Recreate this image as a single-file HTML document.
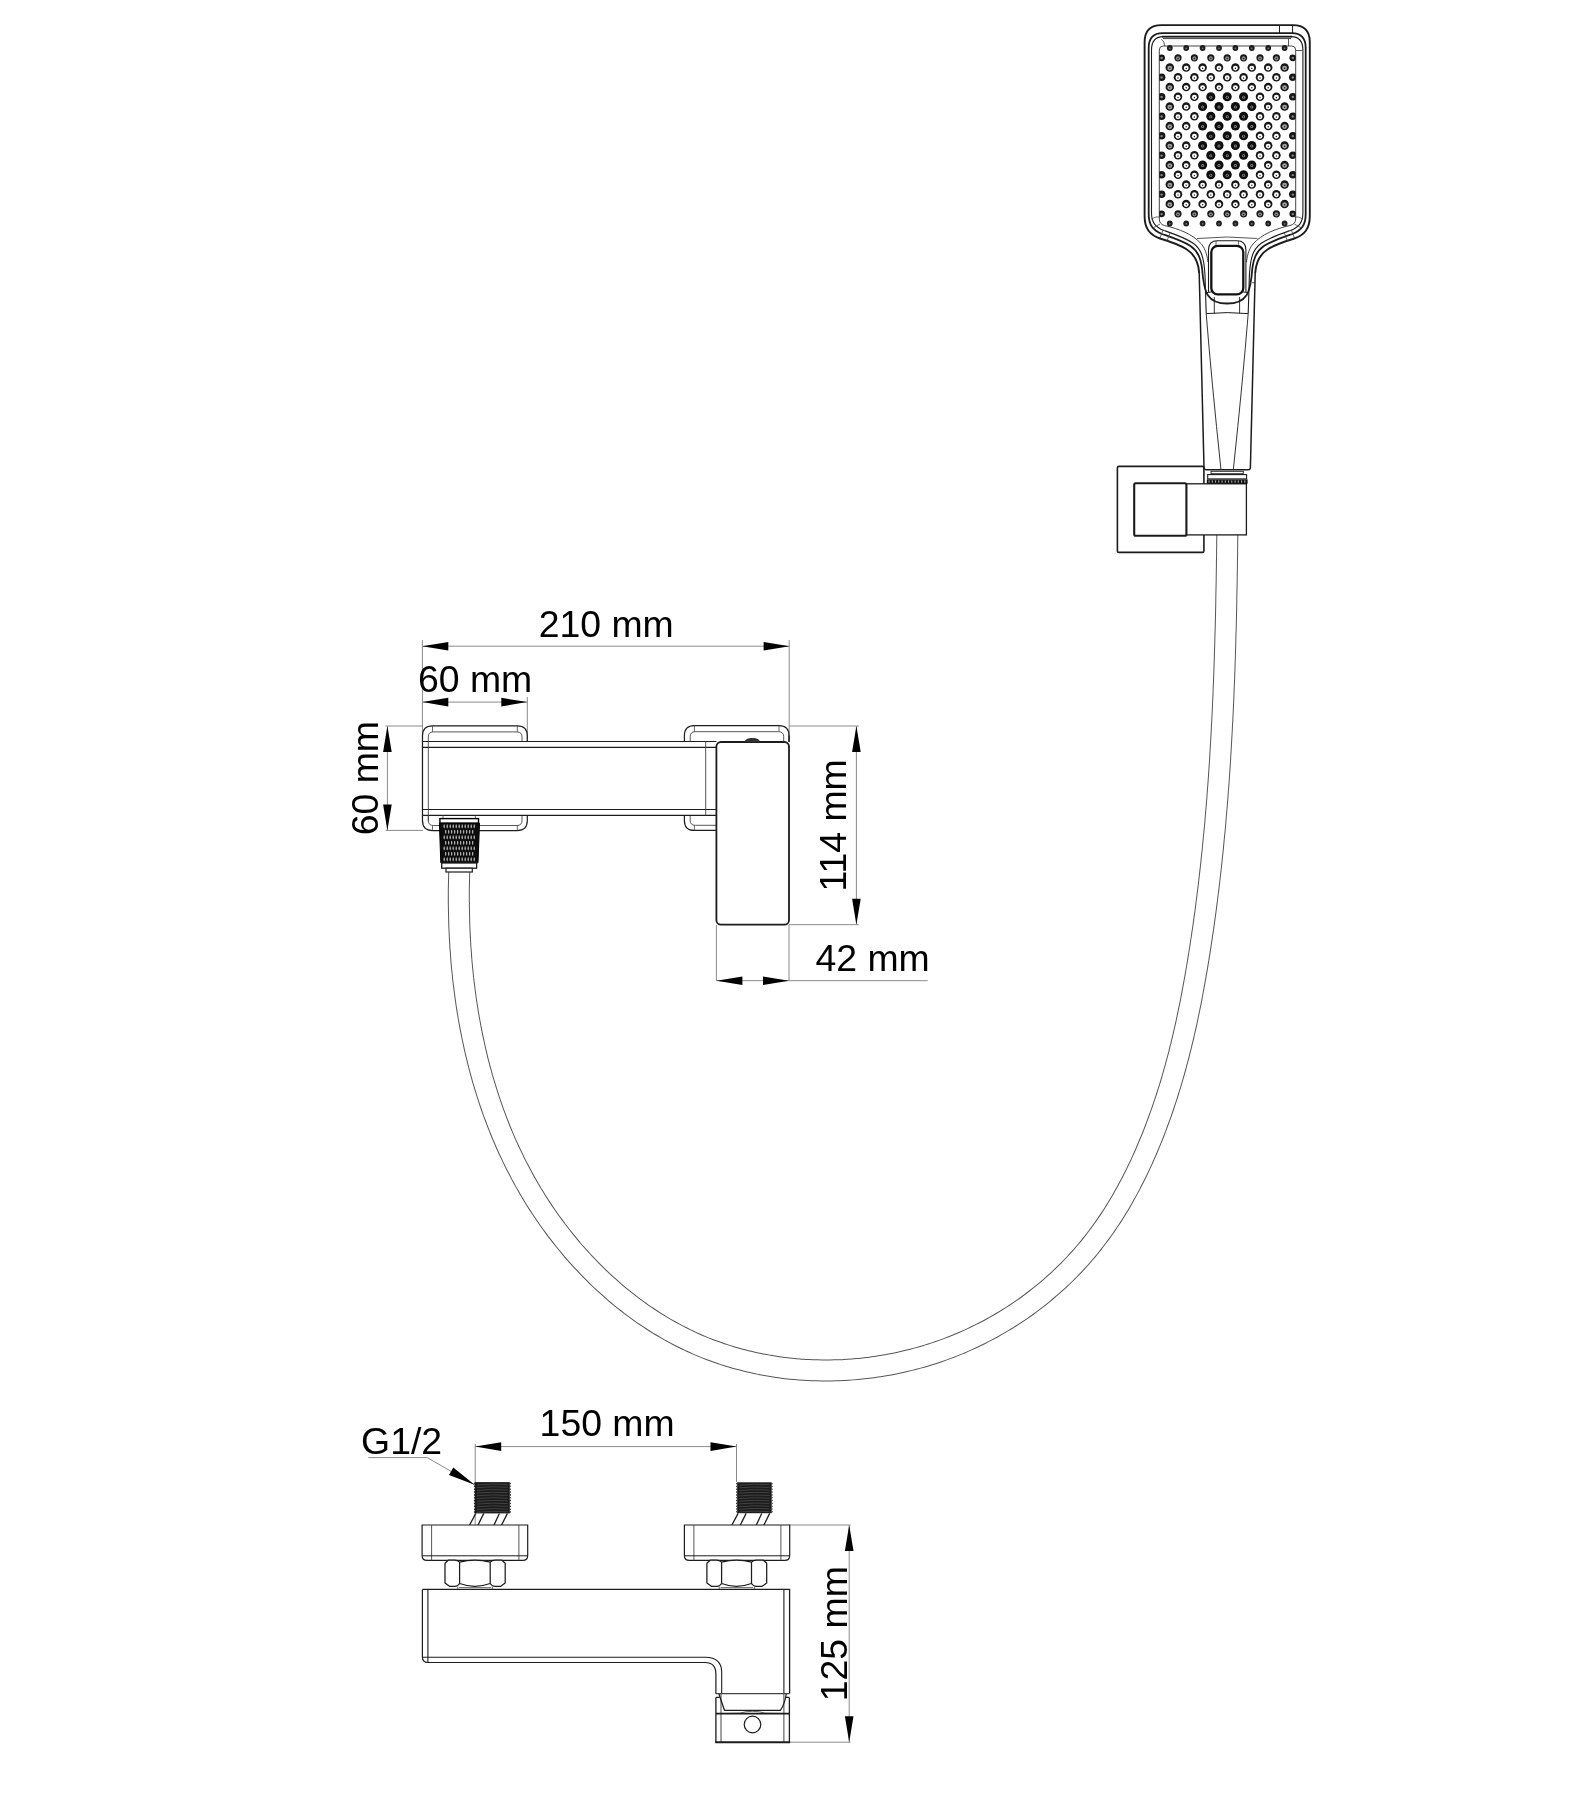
<!DOCTYPE html>
<html><head><meta charset="utf-8"><title>Shower mixer drawing</title>
<style>html,body{margin:0;padding:0;background:#fff;} svg{display:block;will-change:transform;}</style></head>
<body><svg width="1581" height="1800" viewBox="0 0 1581 1800">
<rect width="1581" height="1800" fill="#fff"/>
<path d="M459.7,860.1 L459.5,864.4 L459.3,868.8 L459.2,873.1 L459.1,877.4 L459.0,881.8 L458.9,886.1 L458.8,890.5 L458.8,894.9 L458.8,899.2 L458.8,903.6 L458.9,908.0 L459.0,912.3 L459.1,916.7 L459.2,921.1 L459.3,925.5 L459.5,929.8 L459.7,934.2 L459.9,938.6 L460.2,943.0 L460.4,947.4 L460.8,951.7 L461.1,956.1 L461.4,960.5 L461.8,964.9 L462.2,969.2 L462.7,973.6 L463.1,978.0 L463.6,982.3 L464.2,986.7 L464.7,991.0 L465.3,995.4 L465.9,999.7 L466.5,1004.1 L467.2,1008.4 L467.9,1012.8 L468.6,1017.1 L469.4,1021.4 L470.2,1025.7 L471.0,1030.0 L471.9,1034.3 L472.7,1038.6 L473.7,1042.9 L474.6,1047.2 L475.6,1051.5 L476.6,1055.7 L477.6,1060.0 L478.7,1064.2 L479.8,1068.5 L481.0,1072.7 L482.1,1076.9 L483.3,1081.1 L484.6,1085.3 L485.9,1089.5 L487.2,1093.7 L488.5,1097.8 L489.9,1102.0 L491.3,1106.1 L492.7,1110.2 L494.2,1114.3 L495.8,1118.4 L497.3,1122.5 L498.9,1126.6 L500.5,1130.6 L502.2,1134.7 L503.9,1138.7 L505.6,1142.7 L507.4,1146.7 L509.2,1150.6 L511.1,1154.6 L513.0,1158.5 L514.9,1162.5 L516.9,1166.4 L518.9,1170.2 L520.9,1174.1 L523.0,1178.0 L525.1,1181.8 L527.3,1185.6 L529.5,1189.4 L531.7,1193.2 L534.0,1196.9 L536.3,1200.7 L538.7,1204.4 L541.1,1208.1 L543.5,1211.7 L546.0,1215.4 L548.5,1219.0 L551.1,1222.6 L553.7,1226.1 L556.3,1229.7 L559.0,1233.2 L561.7,1236.7 L564.5,1240.2 L567.3,1243.6 L570.1,1247.0 L572.9,1250.4 L575.8,1253.7 L578.8,1257.0 L581.8,1260.3 L584.8,1263.5 L587.8,1266.7 L590.9,1269.9 L594.0,1273.0 L597.1,1276.1 L600.3,1279.2 L603.5,1282.2 L606.8,1285.2 L610.1,1288.1 L613.4,1291.0 L616.7,1293.9 L620.1,1296.7 L623.5,1299.5 L627.0,1302.2 L630.4,1304.9 L633.9,1307.5 L637.5,1310.1 L641.0,1312.7 L644.6,1315.2 L648.3,1317.6 L651.9,1320.0 L655.6,1322.4 L659.3,1324.7 L663.1,1326.9 L666.8,1329.1 L670.6,1331.3 L674.5,1333.4 L678.3,1335.4 L682.2,1337.4 L686.1,1339.3 L690.0,1341.2 L694.0,1343.0 L698.0,1344.8 L702.0,1346.5 L706.0,1348.1 L710.1,1349.7 L714.2,1351.2 L718.3,1352.7 L722.4,1354.1 L726.6,1355.4 L730.8,1356.7 L735.0,1358.0 L739.2,1359.1 L743.4,1360.2 L747.6,1361.3 L751.9,1362.3 L756.2,1363.2 L760.5,1364.1 L764.8,1364.9 L769.1,1365.7 L773.4,1366.4 L777.8,1367.1 L782.1,1367.7 L786.5,1368.2 L790.9,1368.7 L795.2,1369.1 L799.6,1369.5 L804.0,1369.8 L808.4,1370.0 L812.8,1370.2 L817.2,1370.3 L821.6,1370.4 L826.1,1370.5 L830.5,1370.4 L834.9,1370.3 L839.3,1370.2 L843.7,1370.0 L848.1,1369.7 L852.5,1369.4 L857.0,1369.0 L861.4,1368.6 L865.8,1368.1 L870.2,1367.6 L874.6,1367.0 L878.9,1366.3 L883.3,1365.6 L887.7,1364.9 L892.0,1364.1 L896.4,1363.2 L900.7,1362.3 L905.0,1361.3 L909.3,1360.2 L913.6,1359.2 L917.9,1358.0 L922.2,1356.8 L926.4,1355.6 L930.7,1354.2 L934.9,1352.9 L939.1,1351.5 L943.3,1350.0 L947.4,1348.5 L951.6,1346.9 L955.7,1345.2 L959.8,1343.6 L963.8,1341.8 L967.9,1340.0 L971.9,1338.2 L975.9,1336.3 L979.9,1334.3 L983.8,1332.3 L987.7,1330.3 L991.6,1328.2 L995.5,1326.0 L999.3,1323.8 L1003.1,1321.6 L1006.9,1319.3 L1010.6,1316.9 L1014.4,1314.5 L1018.0,1312.1 L1021.7,1309.6 L1025.3,1307.1 L1028.9,1304.5 L1032.4,1301.8 L1035.9,1299.2 L1039.4,1296.5 L1042.8,1293.7 L1046.2,1290.9 L1049.6,1288.0 L1052.9,1285.2 L1056.2,1282.2 L1059.4,1279.3 L1062.6,1276.2 L1065.7,1273.2 L1068.9,1270.1 L1071.9,1266.9 L1074.9,1263.8 L1077.9,1260.5 L1080.9,1257.3 L1083.7,1254.0 L1086.6,1250.7 L1089.4,1247.3 L1092.1,1243.9 L1094.8,1240.4 L1097.5,1236.9 L1100.1,1233.4 L1102.6,1229.9 L1105.2,1226.3 L1107.6,1222.7 L1110.1,1219.1 L1112.5,1215.4 L1114.8,1211.7 L1117.1,1208.0 L1119.4,1204.2 L1121.6,1200.4 L1123.8,1196.6 L1125.9,1192.8 L1128.0,1188.9 L1130.1,1185.1 L1132.1,1181.2 L1134.1,1177.3 L1136.1,1173.3 L1138.0,1169.4 L1139.9,1165.4 L1141.7,1161.5 L1143.5,1157.5 L1145.3,1153.4 L1147.0,1149.4 L1148.7,1145.4 L1150.4,1141.3 L1152.1,1137.3 L1153.7,1133.2 L1155.3,1129.1 L1156.8,1125.0 L1158.3,1120.9 L1159.8,1116.8 L1161.3,1112.7 L1162.7,1108.6 L1164.1,1104.4 L1165.5,1100.3 L1166.9,1096.1 L1168.2,1091.9 L1169.5,1087.8 L1170.8,1083.6 L1172.0,1079.4 L1173.2,1075.2 L1174.4,1071.0 L1175.6,1066.8 L1176.7,1062.5 L1177.9,1058.3 L1179.0,1054.1 L1180.0,1049.8 L1181.1,1045.6 L1182.1,1041.3 L1183.2,1037.0 L1184.1,1032.8 L1185.1,1028.5 L1186.1,1024.2 L1187.0,1019.9 L1187.9,1015.6 L1188.8,1011.3 L1189.7,1007.0 L1190.6,1002.7 L1191.4,998.4 L1192.2,994.1 L1193.0,989.8 L1193.8,985.5 L1194.6,981.2 L1195.4,976.8 L1196.1,972.5 L1196.9,968.2 L1197.6,963.9 L1198.3,959.5 L1199.0,955.2 L1199.7,950.9 L1200.4,946.5 L1201.0,942.2 L1201.7,937.9 L1202.3,933.5 L1203.0,929.2 L1203.6,924.9 L1204.2,920.5 L1204.8,916.2 L1205.4,911.9 L1206.0,907.5 L1206.5,903.2 L1207.1,898.8 L1207.6,894.5 L1208.2,890.2 L1208.7,885.8 L1209.2,881.5 L1209.7,877.1 L1210.2,872.8 L1210.7,868.5 L1211.2,864.1 L1211.6,859.8 L1212.1,855.4 L1212.6,851.1 L1213.0,846.7 L1213.4,842.4 L1213.8,838.0 L1214.3,833.7 L1214.7,829.3 L1215.1,825.0 L1215.5,820.6 L1215.8,816.3 L1216.2,811.9 L1216.6,807.6 L1216.9,803.2 L1217.3,798.9 L1217.6,794.5 L1217.9,790.2 L1218.3,785.8 L1218.6,781.5 L1218.9,777.1 L1219.2,772.7 L1219.5,768.4 L1219.8,764.0 L1220.1,759.7 L1220.3,755.3 L1220.6,750.9 L1220.8,746.6 L1221.1,742.2 L1221.3,737.9 L1221.6,733.5 L1221.8,729.1 L1222.0,724.8 L1222.3,720.4 L1222.5,716.0 L1222.7,711.7 L1222.9,707.3 L1223.1,703.0 L1223.3,698.6 L1223.5,694.2 L1223.6,689.9 L1223.8,685.5 L1224.0,681.1 L1224.2,676.8 L1224.3,672.4 L1224.5,668.0 L1224.6,663.6 L1224.8,659.3 L1224.9,654.9 L1225.0,650.5 L1225.2,646.2 L1225.3,641.8 L1225.4,637.4 L1225.5,633.0 L1225.7,628.7 L1225.8,624.3 L1225.9,619.9 L1226.0,615.5 L1226.1,611.2 L1226.2,606.8 L1226.3,602.4 L1226.3,598.0 L1226.4,593.7 L1226.5,589.3 L1226.6,584.9 L1226.7,580.5 L1226.7,576.2 L1226.8,571.8 L1226.9,567.4 L1226.9,563.0 L1227.0,558.6 L1227.1,554.3 L1227.1,549.9 L1227.2,545.5 L1227.2,541.1 L1227.3,536.7 L1227.3,532.3 L1227.4,528.0" fill="none" stroke="#555" stroke-width="22" stroke-linejoin="round"/><path d="M459.7,860.1 L459.5,864.4 L459.3,868.8 L459.2,873.1 L459.1,877.4 L459.0,881.8 L458.9,886.1 L458.8,890.5 L458.8,894.9 L458.8,899.2 L458.8,903.6 L458.9,908.0 L459.0,912.3 L459.1,916.7 L459.2,921.1 L459.3,925.5 L459.5,929.8 L459.7,934.2 L459.9,938.6 L460.2,943.0 L460.4,947.4 L460.8,951.7 L461.1,956.1 L461.4,960.5 L461.8,964.9 L462.2,969.2 L462.7,973.6 L463.1,978.0 L463.6,982.3 L464.2,986.7 L464.7,991.0 L465.3,995.4 L465.9,999.7 L466.5,1004.1 L467.2,1008.4 L467.9,1012.8 L468.6,1017.1 L469.4,1021.4 L470.2,1025.7 L471.0,1030.0 L471.9,1034.3 L472.7,1038.6 L473.7,1042.9 L474.6,1047.2 L475.6,1051.5 L476.6,1055.7 L477.6,1060.0 L478.7,1064.2 L479.8,1068.5 L481.0,1072.7 L482.1,1076.9 L483.3,1081.1 L484.6,1085.3 L485.9,1089.5 L487.2,1093.7 L488.5,1097.8 L489.9,1102.0 L491.3,1106.1 L492.7,1110.2 L494.2,1114.3 L495.8,1118.4 L497.3,1122.5 L498.9,1126.6 L500.5,1130.6 L502.2,1134.7 L503.9,1138.7 L505.6,1142.7 L507.4,1146.7 L509.2,1150.6 L511.1,1154.6 L513.0,1158.5 L514.9,1162.5 L516.9,1166.4 L518.9,1170.2 L520.9,1174.1 L523.0,1178.0 L525.1,1181.8 L527.3,1185.6 L529.5,1189.4 L531.7,1193.2 L534.0,1196.9 L536.3,1200.7 L538.7,1204.4 L541.1,1208.1 L543.5,1211.7 L546.0,1215.4 L548.5,1219.0 L551.1,1222.6 L553.7,1226.1 L556.3,1229.7 L559.0,1233.2 L561.7,1236.7 L564.5,1240.2 L567.3,1243.6 L570.1,1247.0 L572.9,1250.4 L575.8,1253.7 L578.8,1257.0 L581.8,1260.3 L584.8,1263.5 L587.8,1266.7 L590.9,1269.9 L594.0,1273.0 L597.1,1276.1 L600.3,1279.2 L603.5,1282.2 L606.8,1285.2 L610.1,1288.1 L613.4,1291.0 L616.7,1293.9 L620.1,1296.7 L623.5,1299.5 L627.0,1302.2 L630.4,1304.9 L633.9,1307.5 L637.5,1310.1 L641.0,1312.7 L644.6,1315.2 L648.3,1317.6 L651.9,1320.0 L655.6,1322.4 L659.3,1324.7 L663.1,1326.9 L666.8,1329.1 L670.6,1331.3 L674.5,1333.4 L678.3,1335.4 L682.2,1337.4 L686.1,1339.3 L690.0,1341.2 L694.0,1343.0 L698.0,1344.8 L702.0,1346.5 L706.0,1348.1 L710.1,1349.7 L714.2,1351.2 L718.3,1352.7 L722.4,1354.1 L726.6,1355.4 L730.8,1356.7 L735.0,1358.0 L739.2,1359.1 L743.4,1360.2 L747.6,1361.3 L751.9,1362.3 L756.2,1363.2 L760.5,1364.1 L764.8,1364.9 L769.1,1365.7 L773.4,1366.4 L777.8,1367.1 L782.1,1367.7 L786.5,1368.2 L790.9,1368.7 L795.2,1369.1 L799.6,1369.5 L804.0,1369.8 L808.4,1370.0 L812.8,1370.2 L817.2,1370.3 L821.6,1370.4 L826.1,1370.5 L830.5,1370.4 L834.9,1370.3 L839.3,1370.2 L843.7,1370.0 L848.1,1369.7 L852.5,1369.4 L857.0,1369.0 L861.4,1368.6 L865.8,1368.1 L870.2,1367.6 L874.6,1367.0 L878.9,1366.3 L883.3,1365.6 L887.7,1364.9 L892.0,1364.1 L896.4,1363.2 L900.7,1362.3 L905.0,1361.3 L909.3,1360.2 L913.6,1359.2 L917.9,1358.0 L922.2,1356.8 L926.4,1355.6 L930.7,1354.2 L934.9,1352.9 L939.1,1351.5 L943.3,1350.0 L947.4,1348.5 L951.6,1346.9 L955.7,1345.2 L959.8,1343.6 L963.8,1341.8 L967.9,1340.0 L971.9,1338.2 L975.9,1336.3 L979.9,1334.3 L983.8,1332.3 L987.7,1330.3 L991.6,1328.2 L995.5,1326.0 L999.3,1323.8 L1003.1,1321.6 L1006.9,1319.3 L1010.6,1316.9 L1014.4,1314.5 L1018.0,1312.1 L1021.7,1309.6 L1025.3,1307.1 L1028.9,1304.5 L1032.4,1301.8 L1035.9,1299.2 L1039.4,1296.5 L1042.8,1293.7 L1046.2,1290.9 L1049.6,1288.0 L1052.9,1285.2 L1056.2,1282.2 L1059.4,1279.3 L1062.6,1276.2 L1065.7,1273.2 L1068.9,1270.1 L1071.9,1266.9 L1074.9,1263.8 L1077.9,1260.5 L1080.9,1257.3 L1083.7,1254.0 L1086.6,1250.7 L1089.4,1247.3 L1092.1,1243.9 L1094.8,1240.4 L1097.5,1236.9 L1100.1,1233.4 L1102.6,1229.9 L1105.2,1226.3 L1107.6,1222.7 L1110.1,1219.1 L1112.5,1215.4 L1114.8,1211.7 L1117.1,1208.0 L1119.4,1204.2 L1121.6,1200.4 L1123.8,1196.6 L1125.9,1192.8 L1128.0,1188.9 L1130.1,1185.1 L1132.1,1181.2 L1134.1,1177.3 L1136.1,1173.3 L1138.0,1169.4 L1139.9,1165.4 L1141.7,1161.5 L1143.5,1157.5 L1145.3,1153.4 L1147.0,1149.4 L1148.7,1145.4 L1150.4,1141.3 L1152.1,1137.3 L1153.7,1133.2 L1155.3,1129.1 L1156.8,1125.0 L1158.3,1120.9 L1159.8,1116.8 L1161.3,1112.7 L1162.7,1108.6 L1164.1,1104.4 L1165.5,1100.3 L1166.9,1096.1 L1168.2,1091.9 L1169.5,1087.8 L1170.8,1083.6 L1172.0,1079.4 L1173.2,1075.2 L1174.4,1071.0 L1175.6,1066.8 L1176.7,1062.5 L1177.9,1058.3 L1179.0,1054.1 L1180.0,1049.8 L1181.1,1045.6 L1182.1,1041.3 L1183.2,1037.0 L1184.1,1032.8 L1185.1,1028.5 L1186.1,1024.2 L1187.0,1019.9 L1187.9,1015.6 L1188.8,1011.3 L1189.7,1007.0 L1190.6,1002.7 L1191.4,998.4 L1192.2,994.1 L1193.0,989.8 L1193.8,985.5 L1194.6,981.2 L1195.4,976.8 L1196.1,972.5 L1196.9,968.2 L1197.6,963.9 L1198.3,959.5 L1199.0,955.2 L1199.7,950.9 L1200.4,946.5 L1201.0,942.2 L1201.7,937.9 L1202.3,933.5 L1203.0,929.2 L1203.6,924.9 L1204.2,920.5 L1204.8,916.2 L1205.4,911.9 L1206.0,907.5 L1206.5,903.2 L1207.1,898.8 L1207.6,894.5 L1208.2,890.2 L1208.7,885.8 L1209.2,881.5 L1209.7,877.1 L1210.2,872.8 L1210.7,868.5 L1211.2,864.1 L1211.6,859.8 L1212.1,855.4 L1212.6,851.1 L1213.0,846.7 L1213.4,842.4 L1213.8,838.0 L1214.3,833.7 L1214.7,829.3 L1215.1,825.0 L1215.5,820.6 L1215.8,816.3 L1216.2,811.9 L1216.6,807.6 L1216.9,803.2 L1217.3,798.9 L1217.6,794.5 L1217.9,790.2 L1218.3,785.8 L1218.6,781.5 L1218.9,777.1 L1219.2,772.7 L1219.5,768.4 L1219.8,764.0 L1220.1,759.7 L1220.3,755.3 L1220.6,750.9 L1220.8,746.6 L1221.1,742.2 L1221.3,737.9 L1221.6,733.5 L1221.8,729.1 L1222.0,724.8 L1222.3,720.4 L1222.5,716.0 L1222.7,711.7 L1222.9,707.3 L1223.1,703.0 L1223.3,698.6 L1223.5,694.2 L1223.6,689.9 L1223.8,685.5 L1224.0,681.1 L1224.2,676.8 L1224.3,672.4 L1224.5,668.0 L1224.6,663.6 L1224.8,659.3 L1224.9,654.9 L1225.0,650.5 L1225.2,646.2 L1225.3,641.8 L1225.4,637.4 L1225.5,633.0 L1225.7,628.7 L1225.8,624.3 L1225.9,619.9 L1226.0,615.5 L1226.1,611.2 L1226.2,606.8 L1226.3,602.4 L1226.3,598.0 L1226.4,593.7 L1226.5,589.3 L1226.6,584.9 L1226.7,580.5 L1226.7,576.2 L1226.8,571.8 L1226.9,567.4 L1226.9,563.0 L1227.0,558.6 L1227.1,554.3 L1227.1,549.9 L1227.2,545.5 L1227.2,541.1 L1227.3,536.7 L1227.3,532.3 L1227.4,528.0" fill="none" stroke="#fff" stroke-width="20" stroke-linejoin="round"/>
<line x1="422.3" y1="646.2" x2="789.6" y2="646.2" stroke="#8a8a8a" stroke-width="1"/>
<path d="M422.3,646.2 L448.3,641.9 L448.3,650.5 Z" fill="#000"/>
<path d="M789.6,646.2 L763.6,650.5 L763.6,641.9 Z" fill="#000"/>
<line x1="422.4" y1="640" x2="422.4" y2="822" stroke="#8a8a8a" stroke-width="1"/>
<line x1="789.2" y1="640" x2="789.2" y2="742" stroke="#8a8a8a" stroke-width="1"/>
<line x1="422.3" y1="702.1" x2="527.3" y2="702.1" stroke="#8a8a8a" stroke-width="1"/>
<path d="M422.3,702.1 L448.3,697.8 L448.3,706.4 Z" fill="#000"/>
<path d="M527.3,702.1 L501.3,706.4 L501.3,697.8 Z" fill="#000"/>
<line x1="527.3" y1="697" x2="527.3" y2="741.5" stroke="#8a8a8a" stroke-width="1"/>
<line x1="387.4" y1="726" x2="387.4" y2="830.4" stroke="#8a8a8a" stroke-width="1"/>
<path d="M387.4,726.0 L391.7,752.0 L383.1,752.0 Z" fill="#000"/>
<path d="M387.4,830.4 L383.1,804.4 L391.7,804.4 Z" fill="#000"/>
<line x1="385.5" y1="726" x2="423" y2="726" stroke="#8a8a8a" stroke-width="1"/>
<line x1="385.5" y1="830.4" x2="423" y2="830.4" stroke="#8a8a8a" stroke-width="1"/>
<line x1="856.4" y1="726" x2="856.4" y2="924.7" stroke="#8a8a8a" stroke-width="1"/>
<path d="M856.4,726.0 L860.7,752.0 L852.1,752.0 Z" fill="#000"/>
<path d="M856.4,924.7 L852.1,898.7 L860.7,898.7 Z" fill="#000"/>
<line x1="789" y1="726" x2="858.7" y2="726" stroke="#8a8a8a" stroke-width="1"/>
<line x1="789" y1="924.7" x2="858.7" y2="924.7" stroke="#8a8a8a" stroke-width="1"/>
<line x1="716.4" y1="980.7" x2="927.7" y2="980.7" stroke="#8a8a8a" stroke-width="1"/>
<path d="M716.4,980.7 L742.4,976.4 L742.4,985.0 Z" fill="#000"/>
<path d="M789.0,980.7 L763.0,985.0 L763.0,976.4 Z" fill="#000"/>
<line x1="716.4" y1="925" x2="716.4" y2="981" stroke="#8a8a8a" stroke-width="1"/>
<line x1="789" y1="925" x2="789" y2="981" stroke="#8a8a8a" stroke-width="1"/>
<line x1="475.2" y1="1446.6" x2="736.5" y2="1446.6" stroke="#8a8a8a" stroke-width="1"/>
<path d="M475.2,1446.6 L501.2,1442.3 L501.2,1450.9 Z" fill="#000"/>
<path d="M736.5,1446.6 L710.5,1450.9 L710.5,1442.3 Z" fill="#000"/>
<line x1="475.2" y1="1444" x2="475.2" y2="1525" stroke="#8a8a8a" stroke-width="1"/>
<line x1="736.5" y1="1444" x2="736.5" y2="1482" stroke="#8a8a8a" stroke-width="1"/>
<polyline points="368.3,1457.6 427.2,1457.6 474.6,1484.8" fill="none" stroke="#8a8a8a" stroke-width="1"/>
<path d="M474.6,1484.8 L449.0,1475.1 L453.3,1467.6 Z" fill="#000"/>
<line x1="849.2" y1="1525" x2="849.2" y2="1742.2" stroke="#8a8a8a" stroke-width="1"/>
<path d="M849.2,1525.0 L853.5,1551.0 L844.9,1551.0 Z" fill="#000"/>
<path d="M849.2,1742.2 L844.9,1716.2 L853.5,1716.2 Z" fill="#000"/>
<line x1="789.7" y1="1525" x2="850.6" y2="1525" stroke="#8a8a8a" stroke-width="1"/>
<line x1="789.5" y1="1742.2" x2="850.6" y2="1742.2" stroke="#8a8a8a" stroke-width="1"/>
<g font-family="Liberation Sans, sans-serif" fill="#000"><text x="538.70" y="636.60" font-size="37.4">210 mm</text>
<text x="418.00" y="692.00" font-size="37.4">60 mm</text>
<text x="815.50" y="970.75" font-size="37.4">42 mm</text>
<text x="539.60" y="1436.25" font-size="37.4">150 mm</text>
<text x="361.05" y="1453.80" font-size="37.4">G1/2</text>
<text x="0" y="0" font-size="37.4" transform="translate(377.80,835.25) rotate(-90)">60 mm</text>
<text x="0" y="0" font-size="37.4" transform="translate(846.45,891.60) rotate(-90)">114 mm</text>
<text x="0" y="0" font-size="37.4" transform="translate(846.65,1701.25) rotate(-90)">125 mm</text></g>
<path d="M422.5,741.5 L422.5,735.8 Q422.5,725.8 432.5,725.8 L517.3,725.8 Q527.3,725.8 527.3,735.8 L527.3,741.5" fill="none" stroke="#1c1c1c" stroke-width="1.2"/>
<path d="M428.3,741.5 L428.3,736.9 Q428.3,731.9 433.3,731.9 L517.0,731.9 Q522.0,731.9 522.0,736.9 L522.0,741.5" fill="none" stroke="#444" stroke-width="0.9"/>
<line x1="432.5" y1="725.8" x2="432.5" y2="731.9" stroke="#444" stroke-width="0.8"/>
<line x1="517.3" y1="725.8" x2="517.3" y2="731.9" stroke="#444" stroke-width="0.8"/>
<path d="M422.5,815.4 L422.5,820.6 Q422.5,830.6 432.5,830.6 L517.3,830.6 Q527.3,830.6 527.3,820.6 L527.3,815.4" fill="none" stroke="#1c1c1c" stroke-width="1.2"/>
<path d="M428.3,815.4 L428.3,820.5 Q428.3,825.5 433.3,825.5 L517.0,825.5 Q522.0,825.5 522.0,820.5 L522.0,815.4" fill="none" stroke="#444" stroke-width="0.9"/>
<line x1="432.5" y1="830.6" x2="432.5" y2="825.5" stroke="#444" stroke-width="0.8"/>
<line x1="517.3" y1="830.6" x2="517.3" y2="825.5" stroke="#444" stroke-width="0.8"/>
<path d="M684.4,741.7 L684.4,735.6 Q684.4,725.6 694.4,725.6 L779,725.6 Q789,725.6 789,735.6 L789,741.7" fill="none" stroke="#1c1c1c" stroke-width="1.2"/>
<path d="M690.1999999999999,741.7 L690.1999999999999,736.7 Q690.1999999999999,731.7 695.1999999999999,731.7 L778.7,731.7 Q783.7,731.7 783.7,736.7 L783.7,741.7" fill="none" stroke="#444" stroke-width="0.9"/>
<line x1="694.4" y1="725.6" x2="694.4" y2="731.7" stroke="#444" stroke-width="0.8"/>
<line x1="779" y1="725.6" x2="779" y2="731.7" stroke="#444" stroke-width="0.8"/>
<path d="M684.4,815.2 L684.4,820.4 Q684.4,830.4 694.4,830.4 L716.4,830.4" fill="none" stroke="#1c1c1c" stroke-width="1.2"/>
<path d="M690.1999999999999,815.2 L690.1999999999999,820.3 Q690.1999999999999,825.3 695.1999999999999,825.3 L716.4,825.3" fill="none" stroke="#444" stroke-width="0.9"/>
<line x1="694.4" y1="830.4" x2="694.4" y2="825.3" stroke="#444" stroke-width="0.8"/>
<line x1="422.5" y1="741.5" x2="716.4" y2="741.5" stroke="#1c1c1c" stroke-width="1.2"/>
<line x1="422.5" y1="747.4" x2="716.4" y2="747.4" stroke="#1c1c1c" stroke-width="1.2"/>
<line x1="422.5" y1="809.5" x2="716.4" y2="809.5" stroke="#1c1c1c" stroke-width="1.2"/>
<line x1="422.5" y1="815.4" x2="716.4" y2="815.4" stroke="#1c1c1c" stroke-width="1.2"/>
<line x1="422.5" y1="741.5" x2="422.5" y2="815.4" stroke="#1c1c1c" stroke-width="1.2"/>
<line x1="428.3" y1="741.5" x2="428.3" y2="821" stroke="#444" stroke-width="0.9"/>
<line x1="705.7" y1="741.7" x2="705.7" y2="815.2" stroke="#444" stroke-width="0.9"/>
<rect x="716.4" y="742" width="72.6" height="182.7" rx="4.5" fill="#fff" stroke="#1c1c1c" stroke-width="1.8"/>
<line x1="789" y1="742" x2="789" y2="735.6" stroke="#1c1c1c" stroke-width="1.2"/>
<path d="M744.7,742 Q746,738.6 752.3,738.6 Q758.7,738.6 760,742" fill="#333" stroke="#1c1c1c" stroke-width="1"/>
<line x1="443" y1="815.4" x2="443" y2="818" stroke="#444" stroke-width="0.8"/>
<line x1="475.4" y1="815.4" x2="475.4" y2="818" stroke="#444" stroke-width="0.8"/>
<rect x="439.9" y="818.6" width="38.6" height="4.6" fill="#fff" stroke="#000" stroke-width="1.4"/>
<path d="M439.4,823.2 L479.5,823.2 L478,862.8 L440.8,862.8 Z" fill="#0c0c0c" stroke="#000" stroke-width="1"/>
<ellipse cx="444.2" cy="826.3" rx="0.65" ry="2.1" fill="#bdbdbd"/>
<ellipse cx="447.2" cy="826.3" rx="0.65" ry="2.1" fill="#bdbdbd"/>
<ellipse cx="450.2" cy="826.3" rx="0.65" ry="2.1" fill="#bdbdbd"/>
<ellipse cx="453.2" cy="826.3" rx="0.65" ry="2.1" fill="#bdbdbd"/>
<ellipse cx="456.2" cy="826.3" rx="0.65" ry="2.1" fill="#bdbdbd"/>
<ellipse cx="459.2" cy="826.3" rx="0.65" ry="2.1" fill="#bdbdbd"/>
<ellipse cx="462.2" cy="826.3" rx="0.65" ry="2.1" fill="#bdbdbd"/>
<ellipse cx="465.2" cy="826.3" rx="0.65" ry="2.1" fill="#bdbdbd"/>
<ellipse cx="468.2" cy="826.3" rx="0.65" ry="2.1" fill="#bdbdbd"/>
<ellipse cx="471.2" cy="826.3" rx="0.65" ry="2.1" fill="#bdbdbd"/>
<ellipse cx="474.2" cy="826.3" rx="0.65" ry="2.1" fill="#bdbdbd"/>
<ellipse cx="445.7" cy="831.8" rx="0.65" ry="2.1" fill="#bdbdbd"/>
<ellipse cx="448.7" cy="831.8" rx="0.65" ry="2.1" fill="#bdbdbd"/>
<ellipse cx="451.7" cy="831.8" rx="0.65" ry="2.1" fill="#bdbdbd"/>
<ellipse cx="454.7" cy="831.8" rx="0.65" ry="2.1" fill="#bdbdbd"/>
<ellipse cx="457.7" cy="831.8" rx="0.65" ry="2.1" fill="#bdbdbd"/>
<ellipse cx="460.7" cy="831.8" rx="0.65" ry="2.1" fill="#bdbdbd"/>
<ellipse cx="463.7" cy="831.8" rx="0.65" ry="2.1" fill="#bdbdbd"/>
<ellipse cx="466.7" cy="831.8" rx="0.65" ry="2.1" fill="#bdbdbd"/>
<ellipse cx="469.7" cy="831.8" rx="0.65" ry="2.1" fill="#bdbdbd"/>
<ellipse cx="472.7" cy="831.8" rx="0.65" ry="2.1" fill="#bdbdbd"/>
<ellipse cx="444.2" cy="837.3" rx="0.65" ry="2.1" fill="#bdbdbd"/>
<ellipse cx="447.2" cy="837.3" rx="0.65" ry="2.1" fill="#bdbdbd"/>
<ellipse cx="450.2" cy="837.3" rx="0.65" ry="2.1" fill="#bdbdbd"/>
<ellipse cx="453.2" cy="837.3" rx="0.65" ry="2.1" fill="#bdbdbd"/>
<ellipse cx="456.2" cy="837.3" rx="0.65" ry="2.1" fill="#bdbdbd"/>
<ellipse cx="459.2" cy="837.3" rx="0.65" ry="2.1" fill="#bdbdbd"/>
<ellipse cx="462.2" cy="837.3" rx="0.65" ry="2.1" fill="#bdbdbd"/>
<ellipse cx="465.2" cy="837.3" rx="0.65" ry="2.1" fill="#bdbdbd"/>
<ellipse cx="468.2" cy="837.3" rx="0.65" ry="2.1" fill="#bdbdbd"/>
<ellipse cx="471.2" cy="837.3" rx="0.65" ry="2.1" fill="#bdbdbd"/>
<ellipse cx="474.2" cy="837.3" rx="0.65" ry="2.1" fill="#bdbdbd"/>
<ellipse cx="445.7" cy="842.8" rx="0.65" ry="2.1" fill="#bdbdbd"/>
<ellipse cx="448.7" cy="842.8" rx="0.65" ry="2.1" fill="#bdbdbd"/>
<ellipse cx="451.7" cy="842.8" rx="0.65" ry="2.1" fill="#bdbdbd"/>
<ellipse cx="454.7" cy="842.8" rx="0.65" ry="2.1" fill="#bdbdbd"/>
<ellipse cx="457.7" cy="842.8" rx="0.65" ry="2.1" fill="#bdbdbd"/>
<ellipse cx="460.7" cy="842.8" rx="0.65" ry="2.1" fill="#bdbdbd"/>
<ellipse cx="463.7" cy="842.8" rx="0.65" ry="2.1" fill="#bdbdbd"/>
<ellipse cx="466.7" cy="842.8" rx="0.65" ry="2.1" fill="#bdbdbd"/>
<ellipse cx="469.7" cy="842.8" rx="0.65" ry="2.1" fill="#bdbdbd"/>
<ellipse cx="472.7" cy="842.8" rx="0.65" ry="2.1" fill="#bdbdbd"/>
<ellipse cx="444.2" cy="848.3" rx="0.65" ry="2.1" fill="#bdbdbd"/>
<ellipse cx="447.2" cy="848.3" rx="0.65" ry="2.1" fill="#bdbdbd"/>
<ellipse cx="450.2" cy="848.3" rx="0.65" ry="2.1" fill="#bdbdbd"/>
<ellipse cx="453.2" cy="848.3" rx="0.65" ry="2.1" fill="#bdbdbd"/>
<ellipse cx="456.2" cy="848.3" rx="0.65" ry="2.1" fill="#bdbdbd"/>
<ellipse cx="459.2" cy="848.3" rx="0.65" ry="2.1" fill="#bdbdbd"/>
<ellipse cx="462.2" cy="848.3" rx="0.65" ry="2.1" fill="#bdbdbd"/>
<ellipse cx="465.2" cy="848.3" rx="0.65" ry="2.1" fill="#bdbdbd"/>
<ellipse cx="468.2" cy="848.3" rx="0.65" ry="2.1" fill="#bdbdbd"/>
<ellipse cx="471.2" cy="848.3" rx="0.65" ry="2.1" fill="#bdbdbd"/>
<ellipse cx="474.2" cy="848.3" rx="0.65" ry="2.1" fill="#bdbdbd"/>
<ellipse cx="445.7" cy="853.8" rx="0.65" ry="2.1" fill="#bdbdbd"/>
<ellipse cx="448.7" cy="853.8" rx="0.65" ry="2.1" fill="#bdbdbd"/>
<ellipse cx="451.7" cy="853.8" rx="0.65" ry="2.1" fill="#bdbdbd"/>
<ellipse cx="454.7" cy="853.8" rx="0.65" ry="2.1" fill="#bdbdbd"/>
<ellipse cx="457.7" cy="853.8" rx="0.65" ry="2.1" fill="#bdbdbd"/>
<ellipse cx="460.7" cy="853.8" rx="0.65" ry="2.1" fill="#bdbdbd"/>
<ellipse cx="463.7" cy="853.8" rx="0.65" ry="2.1" fill="#bdbdbd"/>
<ellipse cx="466.7" cy="853.8" rx="0.65" ry="2.1" fill="#bdbdbd"/>
<ellipse cx="469.7" cy="853.8" rx="0.65" ry="2.1" fill="#bdbdbd"/>
<ellipse cx="472.7" cy="853.8" rx="0.65" ry="2.1" fill="#bdbdbd"/>
<ellipse cx="444.2" cy="859.3" rx="0.65" ry="2.1" fill="#bdbdbd"/>
<ellipse cx="447.2" cy="859.3" rx="0.65" ry="2.1" fill="#bdbdbd"/>
<ellipse cx="450.2" cy="859.3" rx="0.65" ry="2.1" fill="#bdbdbd"/>
<ellipse cx="453.2" cy="859.3" rx="0.65" ry="2.1" fill="#bdbdbd"/>
<ellipse cx="456.2" cy="859.3" rx="0.65" ry="2.1" fill="#bdbdbd"/>
<ellipse cx="459.2" cy="859.3" rx="0.65" ry="2.1" fill="#bdbdbd"/>
<ellipse cx="462.2" cy="859.3" rx="0.65" ry="2.1" fill="#bdbdbd"/>
<ellipse cx="465.2" cy="859.3" rx="0.65" ry="2.1" fill="#bdbdbd"/>
<ellipse cx="468.2" cy="859.3" rx="0.65" ry="2.1" fill="#bdbdbd"/>
<ellipse cx="471.2" cy="859.3" rx="0.65" ry="2.1" fill="#bdbdbd"/>
<ellipse cx="474.2" cy="859.3" rx="0.65" ry="2.1" fill="#bdbdbd"/>
<rect x="441.7" y="863" width="34.9" height="5.2" fill="#fff" stroke="#1c1c1c" stroke-width="1.3"/>
<rect x="446" y="868.2" width="26.3" height="3.8" fill="#fff" stroke="#1c1c1c" stroke-width="1.2"/>
<line x1="469.5" y1="1525.2" x2="475.8" y2="1513.4" stroke="#1c1c1c" stroke-width="1.3"/>
<line x1="477.9" y1="1525.2" x2="483.8" y2="1513.4" stroke="#1c1c1c" stroke-width="1.3"/>
<line x1="493.9" y1="1525.2" x2="499.4" y2="1513.4" stroke="#1c1c1c" stroke-width="1.3"/>
<line x1="501.5" y1="1525.2" x2="507.4" y2="1513.4" stroke="#1c1c1c" stroke-width="1.3"/>
<line x1="731.8" y1="1525.2" x2="738.0999999999999" y2="1513.4" stroke="#1c1c1c" stroke-width="1.3"/>
<line x1="740.1999999999999" y1="1525.2" x2="746.0999999999999" y2="1513.4" stroke="#1c1c1c" stroke-width="1.3"/>
<line x1="756.1999999999999" y1="1525.2" x2="761.6999999999999" y2="1513.4" stroke="#1c1c1c" stroke-width="1.3"/>
<line x1="763.8" y1="1525.2" x2="769.6999999999999" y2="1513.4" stroke="#1c1c1c" stroke-width="1.3"/>
<rect x="475" y="1482.1" width="34.80000000000001" height="31.300000000000182" fill="#1c1c1c"/>
<path d="M477,1484.9 Q492.4,1483.4 507.8,1484.5" fill="none" stroke="#4a4a4a" stroke-width="0.8"/>
<path d="M477,1487.6 Q492.4,1486.1 507.8,1487.2" fill="none" stroke="#4a4a4a" stroke-width="0.8"/>
<path d="M477,1490.4 Q492.4,1488.9 507.8,1490.0" fill="none" stroke="#4a4a4a" stroke-width="0.8"/>
<path d="M477,1493.1 Q492.4,1491.6 507.8,1492.7" fill="none" stroke="#4a4a4a" stroke-width="0.8"/>
<path d="M477,1495.8 Q492.4,1494.3 507.8,1495.4" fill="none" stroke="#4a4a4a" stroke-width="0.8"/>
<path d="M477,1498.5 Q492.4,1497.0 507.8,1498.2" fill="none" stroke="#4a4a4a" stroke-width="0.8"/>
<path d="M477,1501.3 Q492.4,1499.8 507.8,1500.9" fill="none" stroke="#4a4a4a" stroke-width="0.8"/>
<path d="M477,1504.0 Q492.4,1502.5 507.8,1503.6" fill="none" stroke="#4a4a4a" stroke-width="0.8"/>
<path d="M477,1506.7 Q492.4,1505.2 507.8,1506.3" fill="none" stroke="#4a4a4a" stroke-width="0.8"/>
<path d="M477,1509.5 Q492.4,1508.0 507.8,1509.1" fill="none" stroke="#4a4a4a" stroke-width="0.8"/>
<path d="M477,1512.2 Q492.4,1510.7 507.8,1511.8" fill="none" stroke="#4a4a4a" stroke-width="0.8"/>
<path d="M475,1482.2 L473.7,1483.5 L475,1484.8 Z" fill="#1c1c1c"/>
<path d="M509.8,1482.2 L511.1,1483.5 L509.8,1484.8 Z" fill="#1c1c1c"/>
<path d="M475,1485.0 L473.7,1486.3 L475,1487.6 Z" fill="#1c1c1c"/>
<path d="M509.8,1485.0 L511.1,1486.3 L509.8,1487.6 Z" fill="#1c1c1c"/>
<path d="M475,1487.9 L473.7,1489.2 L475,1490.5 Z" fill="#1c1c1c"/>
<path d="M509.8,1487.9 L511.1,1489.2 L509.8,1490.5 Z" fill="#1c1c1c"/>
<path d="M475,1490.8 L473.7,1492.0 L475,1493.3 Z" fill="#1c1c1c"/>
<path d="M509.8,1490.8 L511.1,1492.0 L509.8,1493.3 Z" fill="#1c1c1c"/>
<path d="M475,1493.6 L473.7,1494.9 L475,1496.2 Z" fill="#1c1c1c"/>
<path d="M509.8,1493.6 L511.1,1494.9 L509.8,1496.2 Z" fill="#1c1c1c"/>
<path d="M475,1496.5 L473.7,1497.8 L475,1499.0 Z" fill="#1c1c1c"/>
<path d="M509.8,1496.5 L511.1,1497.8 L509.8,1499.0 Z" fill="#1c1c1c"/>
<path d="M475,1499.3 L473.7,1500.6 L475,1501.9 Z" fill="#1c1c1c"/>
<path d="M509.8,1499.3 L511.1,1500.6 L509.8,1501.9 Z" fill="#1c1c1c"/>
<path d="M475,1502.2 L473.7,1503.5 L475,1504.8 Z" fill="#1c1c1c"/>
<path d="M509.8,1502.2 L511.1,1503.5 L509.8,1504.8 Z" fill="#1c1c1c"/>
<path d="M475,1505.0 L473.7,1506.3 L475,1507.6 Z" fill="#1c1c1c"/>
<path d="M509.8,1505.0 L511.1,1506.3 L509.8,1507.6 Z" fill="#1c1c1c"/>
<path d="M475,1507.9 L473.7,1509.2 L475,1510.5 Z" fill="#1c1c1c"/>
<path d="M509.8,1507.9 L511.1,1509.2 L509.8,1510.5 Z" fill="#1c1c1c"/>
<path d="M475,1510.7 L473.7,1512.0 L475,1513.3 Z" fill="#1c1c1c"/>
<path d="M509.8,1510.7 L511.1,1512.0 L509.8,1513.3 Z" fill="#1c1c1c"/>
<rect x="737.2" y="1482.3" width="34.39999999999998" height="30.90000000000009" fill="#1c1c1c"/>
<path d="M739.2,1485.1 Q754.4000000000001,1483.6 769.6,1484.7" fill="none" stroke="#4a4a4a" stroke-width="0.8"/>
<path d="M739.2,1487.8 Q754.4000000000001,1486.3 769.6,1487.4" fill="none" stroke="#4a4a4a" stroke-width="0.8"/>
<path d="M739.2,1490.5 Q754.4000000000001,1489.0 769.6,1490.1" fill="none" stroke="#4a4a4a" stroke-width="0.8"/>
<path d="M739.2,1493.2 Q754.4000000000001,1491.7 769.6,1492.8" fill="none" stroke="#4a4a4a" stroke-width="0.8"/>
<path d="M739.2,1495.9 Q754.4000000000001,1494.4 769.6,1495.5" fill="none" stroke="#4a4a4a" stroke-width="0.8"/>
<path d="M739.2,1498.5 Q754.4000000000001,1497.0 769.6,1498.2" fill="none" stroke="#4a4a4a" stroke-width="0.8"/>
<path d="M739.2,1501.2 Q754.4000000000001,1499.7 769.6,1500.8" fill="none" stroke="#4a4a4a" stroke-width="0.8"/>
<path d="M739.2,1503.9 Q754.4000000000001,1502.4 769.6,1503.5" fill="none" stroke="#4a4a4a" stroke-width="0.8"/>
<path d="M739.2,1506.6 Q754.4000000000001,1505.1 769.6,1506.2" fill="none" stroke="#4a4a4a" stroke-width="0.8"/>
<path d="M739.2,1509.3 Q754.4000000000001,1507.8 769.6,1508.9" fill="none" stroke="#4a4a4a" stroke-width="0.8"/>
<path d="M739.2,1512.0 Q754.4000000000001,1510.5 769.6,1511.6" fill="none" stroke="#4a4a4a" stroke-width="0.8"/>
<path d="M737.2,1482.4 L735.9000000000001,1483.7 L737.2,1485.0 Z" fill="#1c1c1c"/>
<path d="M771.6,1482.4 L772.9,1483.7 L771.6,1485.0 Z" fill="#1c1c1c"/>
<path d="M737.2,1485.2 L735.9000000000001,1486.5 L737.2,1487.8 Z" fill="#1c1c1c"/>
<path d="M771.6,1485.2 L772.9,1486.5 L771.6,1487.8 Z" fill="#1c1c1c"/>
<path d="M737.2,1488.0 L735.9000000000001,1489.3 L737.2,1490.6 Z" fill="#1c1c1c"/>
<path d="M771.6,1488.0 L772.9,1489.3 L771.6,1490.6 Z" fill="#1c1c1c"/>
<path d="M737.2,1490.8 L735.9000000000001,1492.1 L737.2,1493.4 Z" fill="#1c1c1c"/>
<path d="M771.6,1490.8 L772.9,1492.1 L771.6,1493.4 Z" fill="#1c1c1c"/>
<path d="M737.2,1493.6 L735.9000000000001,1494.9 L737.2,1496.2 Z" fill="#1c1c1c"/>
<path d="M771.6,1493.6 L772.9,1494.9 L771.6,1496.2 Z" fill="#1c1c1c"/>
<path d="M737.2,1496.5 L735.9000000000001,1497.8 L737.2,1499.0 Z" fill="#1c1c1c"/>
<path d="M771.6,1496.5 L772.9,1497.8 L771.6,1499.0 Z" fill="#1c1c1c"/>
<path d="M737.2,1499.3 L735.9000000000001,1500.6 L737.2,1501.9 Z" fill="#1c1c1c"/>
<path d="M771.6,1499.3 L772.9,1500.6 L771.6,1501.9 Z" fill="#1c1c1c"/>
<path d="M737.2,1502.1 L735.9000000000001,1503.4 L737.2,1504.7 Z" fill="#1c1c1c"/>
<path d="M771.6,1502.1 L772.9,1503.4 L771.6,1504.7 Z" fill="#1c1c1c"/>
<path d="M737.2,1504.9 L735.9000000000001,1506.2 L737.2,1507.5 Z" fill="#1c1c1c"/>
<path d="M771.6,1504.9 L772.9,1506.2 L771.6,1507.5 Z" fill="#1c1c1c"/>
<path d="M737.2,1507.7 L735.9000000000001,1509.0 L737.2,1510.3 Z" fill="#1c1c1c"/>
<path d="M771.6,1507.7 L772.9,1509.0 L771.6,1510.3 Z" fill="#1c1c1c"/>
<path d="M737.2,1510.5 L735.9000000000001,1511.8 L737.2,1513.1 Z" fill="#1c1c1c"/>
<path d="M771.6,1510.5 L772.9,1511.8 L771.6,1513.1 Z" fill="#1c1c1c"/>
<path d="M422.1,1525 L527.7,1525 L527.7,1555.4 Q527.7,1560.4 522.7,1560.4 L427.1,1560.4 Q422.1,1560.4 422.1,1555.4 Z" fill="#fff" stroke="#1c1c1c" stroke-width="1.2"/>
<line x1="431.6" y1="1525" x2="431.6" y2="1560.4" stroke="#444" stroke-width="0.9"/>
<line x1="518.9000000000001" y1="1525" x2="518.9000000000001" y2="1560.4" stroke="#444" stroke-width="0.9"/>
<line x1="422.1" y1="1555.8" x2="527.7" y2="1555.8" stroke="#1c1c1c" stroke-width="1.0"/>
<path d="M684.4,1525 L789.7,1525 L789.7,1555.4 Q789.7,1560.4 784.7,1560.4 L689.4,1560.4 Q684.4,1560.4 684.4,1555.4 Z" fill="#fff" stroke="#1c1c1c" stroke-width="1.2"/>
<line x1="693.9" y1="1525" x2="693.9" y2="1560.4" stroke="#444" stroke-width="0.9"/>
<line x1="780.9000000000001" y1="1525" x2="780.9000000000001" y2="1560.4" stroke="#444" stroke-width="0.9"/>
<line x1="684.4" y1="1555.8" x2="789.7" y2="1555.8" stroke="#1c1c1c" stroke-width="1.0"/>
<path d="M459.6,1562.1000000000001 Q457.8,1560.2 454.6,1560.2 L448.3,1560.2 L445,1563.2 L445,1583.0 L449.5,1586.3 L454.6,1586.3 Q457.8,1586.3 459.6,1583.5 M490.2,1562.1000000000001 Q492.0,1560.2 495.2,1560.2 L501.9,1560.2 L505.2,1563.2 L505.2,1583.0 L500.7,1586.3 L495.2,1586.3 Q492.0,1586.3 490.2,1583.5 M459.6,1562.1000000000001 Q474.9,1558.3 490.2,1562.1000000000001 M459.6,1583.5 Q474.9,1589.1 490.2,1583.5 M459.6,1562.1000000000001 L459.6,1583.5 M490.2,1562.1000000000001 L490.2,1583.5" fill="#fff" stroke="#1c1c1c" stroke-width="1.25" stroke-linejoin="round"/>
<path d="M721.6,1562.1000000000001 Q719.8000000000001,1560.2 716.6,1560.2 L710.1999999999999,1560.2 L706.9,1563.2 L706.9,1583.0 L711.4,1586.3 L716.6,1586.3 Q719.8000000000001,1586.3 721.6,1583.5 M751.5,1562.1000000000001 Q753.3,1560.2 756.5,1560.2 L763.4000000000001,1560.2 L766.7,1563.2 L766.7,1583.0 L762.2,1586.3 L756.5,1586.3 Q753.3,1586.3 751.5,1583.5 M721.6,1562.1000000000001 Q736.55,1558.3 751.5,1562.1000000000001 M721.6,1583.5 Q736.55,1589.1 751.5,1583.5 M721.6,1562.1000000000001 L721.6,1583.5 M751.5,1562.1000000000001 L751.5,1583.5" fill="#fff" stroke="#1c1c1c" stroke-width="1.25" stroke-linejoin="round"/>
<path d="M457.8,1586.3 L457.8,1589.2 M492.3,1586.3 L492.3,1589.2 M459,1587.6 L491,1587.6" fill="none" stroke="#444" stroke-width="0.8"/>
<path d="M719.2,1586.3 L719.2,1589.2 M754.6,1586.3 L754.6,1589.2 M720.5,1587.6 L753.3,1587.6" fill="none" stroke="#444" stroke-width="0.8"/>
<path d="M422.4,1589.4 L789.6,1589.4 L789.6,1693.6" fill="none" stroke="#1c1c1c" stroke-width="1.3"/>
<path d="M422.4,1589.4 L422.4,1657 Q422.4,1662.5 428,1662.5 L705,1662.5 Q715.9,1662.5 715.9,1674 L715.9,1693.6" fill="none" stroke="#1c1c1c" stroke-width="1.2"/>
<path d="M422.4,1657.2 L705.3,1657.2 Q721.7,1657.2 721.7,1672.4 L721.7,1693.6 M427.9,1590 L427.9,1662.5" fill="none" stroke="#1c1c1c" stroke-width="1.1"/>
<line x1="783.9" y1="1589.4" x2="783.9" y2="1693.6" stroke="#1c1c1c" stroke-width="1.1"/>
<line x1="715.6" y1="1693.6" x2="789.5" y2="1693.6" stroke="#444" stroke-width="1.3"/>
<path d="M715.9,1697.4 L715.9,1742.3 M789.4,1697.4 L789.4,1742.3 M715.9,1697.4 L719.6,1697.4 M785.6,1697.4 L789.4,1697.4" fill="none" stroke="#1c1c1c" stroke-width="1.3"/>
<line x1="721.0" y1="1693.6" x2="721.0" y2="1742.3" stroke="#444" stroke-width="1.0"/>
<line x1="783.9" y1="1693.6" x2="783.9" y2="1742.3" stroke="#444" stroke-width="1.0"/>
<path d="M718.9,1694 L724.5,1710.3 L780.4,1710.3 Q784.6,1704.5 786.3,1694" fill="none" stroke="#1c1c1c" stroke-width="1.25"/>
<path d="M719.5,1713.5 L740,1713.2 Q745,1711.3 752.5,1711.3 Q760,1711.3 765,1713.2 L786,1713.5" fill="none" stroke="#444" stroke-width="0.8"/>
<line x1="715.9" y1="1713.6" x2="789.4" y2="1713.6" stroke="#1c1c1c" stroke-width="1.7"/>
<line x1="715.2" y1="1742.3" x2="790.1" y2="1742.3" stroke="#1c1c1c" stroke-width="2.0"/>
<circle cx="752.5" cy="1724.5" r="8.3" fill="none" stroke="#1c1c1c" stroke-width="1.2"/>
<rect x="1117.4" y="466.4" width="86.5" height="86" rx="1.5" fill="#fff" stroke="#1c1c1c" stroke-width="1.6"/>
<rect x="1186.4" y="483.8" width="60" height="51.1" fill="#fff" stroke="#1c1c1c" stroke-width="1.3"/>
<rect x="1134.2" y="483.2" width="52.2" height="52.6" rx="1.5" fill="#fff" stroke="#1c1c1c" stroke-width="2.1"/>
<rect x="1206.8" y="479.4" width="40.8" height="4.4" fill="#111"/>
<rect x="1208.6" y="480.4" width="1" height="2.2" fill="#bbb"/>
<rect x="1211.8" y="480.4" width="1" height="2.2" fill="#bbb"/>
<rect x="1215.1" y="480.4" width="1" height="2.2" fill="#bbb"/>
<rect x="1218.3" y="480.4" width="1" height="2.2" fill="#bbb"/>
<rect x="1221.6" y="480.4" width="1" height="2.2" fill="#bbb"/>
<rect x="1224.8" y="480.4" width="1" height="2.2" fill="#bbb"/>
<rect x="1228.1" y="480.4" width="1" height="2.2" fill="#bbb"/>
<rect x="1231.3" y="480.4" width="1" height="2.2" fill="#bbb"/>
<rect x="1234.6" y="480.4" width="1" height="2.2" fill="#bbb"/>
<rect x="1237.8" y="480.4" width="1" height="2.2" fill="#bbb"/>
<rect x="1241.1" y="480.4" width="1" height="2.2" fill="#bbb"/>
<rect x="1244.3" y="480.4" width="1" height="2.2" fill="#bbb"/>
<rect x="1207.7" y="474.6" width="38.9" height="4.3" fill="#fff" stroke="#1c1c1c" stroke-width="1.1"/>
<rect x="1211" y="471.3" width="32.3" height="2.4" fill="#fff" stroke="#1c1c1c" stroke-width="0.9"/>
<path d="M1255.20,273.00 C1255.90,262.00 1260.40,254.00 1267.90,249.30 C1274.40,245.00 1284.40,241.50 1294.40,238.50 C1304.40,235.00 1309.80,229.00 1309.80,216.00 L1309.8,42 Q1309.8,25.1 1292.9,25.1 L1161.5,25.1 Q1144.6,25.1 1144.6,42 L1144.6,216 C1144.60,229.00 1150.00,235.00 1160.00,238.50 C1170.00,241.50 1180.00,245.00 1186.50,249.30 C1194.00,254.00 1198.50,262.00 1199.20,273.00" fill="#fff" stroke="#1c1c1c" stroke-width="1.9" stroke-linejoin="round"/>
<path d="M1199.2,273 L1204,467.5 Q1204.2,469.8 1206.5,469.8 L1248.2,469.8 Q1250.3,469.8 1250.4,467.5 L1255.2,273" fill="none" stroke="#1c1c1c" stroke-width="1.5"/>
<path d="M1148.7,48 L1148.70,214.00 C1148.70,225.00 1153.00,230.50 1162.00,234.00 C1172.00,237.50 1183.00,241.00 1190.50,246.00 C1198.00,251.00 1201.80,259.00 1202.80,276.00 C1204.50,289.00 1205.50,303.50 1227.20,303.50 C1248.90,303.50 1249.90,289.00 1251.60,276.00 C1252.60,259.00 1256.40,251.00 1263.90,246.00 C1271.40,241.00 1282.40,237.50 1292.40,234.00 C1301.40,230.50 1305.70,225.00 1305.70,214.00 L1305.7,48 Q1305.7,33.2 1291.8,33.2 L1162.6,33.2 Q1148.7,33.2 1148.7,48 Z" fill="none" stroke="#1c1c1c" stroke-width="1.8"/>
<path d="M1151.5,50 L1151.50,213.00 C1151.50,222.00 1155.00,227.00 1164.00,230.50 C1174.00,234.00 1186.00,238.00 1193.50,243.50 C1201.00,249.00 1204.00,257.00 1205.00,275.00 L1206.2,313.4 M1248.20,313.40 L1249.40,275.00 C1250.40,257.00 1253.40,249.00 1260.90,243.50 C1268.40,238.00 1280.40,234.00 1290.40,230.50 C1299.40,227.00 1302.90,222.00 1302.90,213.00 L1302.9,50 Q1302.9,36.6 1291,36.6 L1163.4,36.6 Q1151.5,36.6 1151.5,50" fill="none" stroke="#1c1c1c" stroke-width="1.1"/>
<path d="M1162,36.6 L1292,36.6" stroke="#1c1c1c" stroke-width="1.7"/>
<path d="M1163,38.6 L1291,38.6" stroke="#444" stroke-width="1.0"/>
<path d="M1288.5,38.6 L1288.5,46.1 M1296,50.5 L1302.9,50.5 M1161.6,39.3 Q1164.6,41.5 1164.6,46.1" fill="none" stroke="#444" stroke-width="0.9"/>
<line x1="1279.5" y1="25.1" x2="1279.5" y2="33.2" stroke="#1c1c1c" stroke-width="1.0"/>
<line x1="1292.6" y1="25.1" x2="1292.6" y2="33.2" stroke="#1c1c1c" stroke-width="1.0"/>
<path d="M1159.3,50 Q1159.3,46 1163.3,46 L1291.7,46 Q1295.7,46 1295.7,50 L1295.7,219 Q1295.7,224 1290,225.5 C1275,229 1262,234 1253,244 C1248,250 1247,258 1246.5,262 M1159.3,50 L1159.3,219 Q1159.3,224 1164.4,225.5 C1179.4,229 1192.4,234 1201.4,244 C1206.4,250 1207.4,258 1207.9,262" fill="none" stroke="#444" stroke-width="1"/>
<path d="M1197,238.5 Q1227.2,235.5 1257.4,238.5" fill="none" stroke="#444" stroke-width="0.9"/>
<path d="M1151.5,219 Q1156,216 1160,217 M1153,228 L1160,224 M1163,230 L1160,238 M1170,233 L1167,241" fill="none" stroke="#444" stroke-width="0.8"/>
<path d="M1303,219 Q1298.4,216 1294.4,217 M1301.4,228 L1294.4,224 M1291.4,230 L1294.4,238 M1284.4,233 L1287.4,241" fill="none" stroke="#444" stroke-width="0.8"/>
<path d="M1208.5,292 L1208.5,250 Q1208.5,240.7 1217.5,240.7 L1236.9,240.7 Q1245.9,240.7 1245.9,250 L1245.9,292" fill="none" stroke="#1c1c1c" stroke-width="1.1"/>
<path d="M1207,292.5 Q1227.2,289 1247.4,292.5" fill="none" stroke="#1c1c1c" stroke-width="1"/>
<line x1="1216" y1="240.7" x2="1216" y2="246" stroke="#444" stroke-width="0.8"/>
<line x1="1238.4" y1="240.7" x2="1238.4" y2="246" stroke="#444" stroke-width="0.8"/>
<rect x="1211.3" y="245.8" width="32" height="48.6" rx="6.5" fill="#fff" stroke="#111" stroke-width="2.3"/>
<line x1="1214.3" y1="297" x2="1214.3" y2="313.4" stroke="#1c1c1c" stroke-width="0.9"/>
<line x1="1239.6" y1="297" x2="1239.6" y2="313.4" stroke="#1c1c1c" stroke-width="0.9"/>
<path d="M1206.2,313.6 Q1227.2,311.6 1248.2,313.6" fill="none" stroke="#1c1c1c" stroke-width="1"/>
<path d="M1206.2,313.6 Q1211.5,380 1221,469.8 M1248.2,313.6 Q1242.9,380 1233.3,469.8" fill="none" stroke="#1c1c1c" stroke-width="0.9"/>
<path d="M1252.2,282.8 L1255,282.8" stroke="#1c1c1c" stroke-width="0.8"/>
<clipPath id="plc"><rect x="1159.3" y="42" width="136.4" height="190"/></clipPath>
<g clip-path="url(#plc)"><circle cx="1169.8" cy="48.0" r="2.9" fill="#1e1e1e"/><circle cx="1169.8" cy="48.3" r="0.9" fill="#777"/><circle cx="1186.2" cy="48.0" r="2.9" fill="#1e1e1e"/><circle cx="1186.2" cy="48.3" r="0.9" fill="#777"/><circle cx="1202.6" cy="48.0" r="2.9" fill="#1e1e1e"/><circle cx="1202.6" cy="48.3" r="0.9" fill="#777"/><circle cx="1219.0" cy="48.0" r="2.9" fill="#1e1e1e"/><circle cx="1219.0" cy="48.3" r="0.9" fill="#777"/><circle cx="1235.4" cy="48.0" r="2.9" fill="#1e1e1e"/><circle cx="1235.4" cy="48.3" r="0.9" fill="#777"/><circle cx="1251.8" cy="48.0" r="2.9" fill="#1e1e1e"/><circle cx="1251.8" cy="48.3" r="0.9" fill="#777"/><circle cx="1268.2" cy="48.0" r="2.9" fill="#1e1e1e"/><circle cx="1268.2" cy="48.3" r="0.9" fill="#777"/><circle cx="1284.6" cy="48.0" r="2.9" fill="#1e1e1e"/><circle cx="1284.6" cy="48.3" r="0.9" fill="#777"/><circle cx="1161.6" cy="57.8" r="3.4" fill="#161616"/><circle cx="1161.6" cy="58.0" r="1.2" fill="#888"/><circle cx="1178.0" cy="57.8" r="3.6" fill="#161616"/><circle cx="1178.0" cy="58.4" r="2.09" fill="#8a8a8a"/><circle cx="1178.0" cy="58.5" r="0.75" fill="#222"/><circle cx="1194.4" cy="57.8" r="3.6" fill="#161616"/><circle cx="1194.4" cy="58.4" r="2.09" fill="#8a8a8a"/><circle cx="1194.4" cy="58.5" r="0.75" fill="#222"/><circle cx="1210.8" cy="57.8" r="3.6" fill="#161616"/><circle cx="1210.8" cy="58.4" r="2.09" fill="#8a8a8a"/><circle cx="1210.8" cy="58.5" r="0.75" fill="#222"/><circle cx="1227.2" cy="57.8" r="3.6" fill="#161616"/><circle cx="1227.2" cy="58.4" r="2.09" fill="#8a8a8a"/><circle cx="1227.2" cy="58.5" r="0.75" fill="#222"/><circle cx="1243.6" cy="57.8" r="3.6" fill="#161616"/><circle cx="1243.6" cy="58.4" r="2.09" fill="#8a8a8a"/><circle cx="1243.6" cy="58.5" r="0.75" fill="#222"/><circle cx="1260.0" cy="57.8" r="3.6" fill="#161616"/><circle cx="1260.0" cy="58.4" r="2.09" fill="#8a8a8a"/><circle cx="1260.0" cy="58.5" r="0.75" fill="#222"/><circle cx="1276.4" cy="57.8" r="3.6" fill="#161616"/><circle cx="1276.4" cy="58.4" r="2.09" fill="#8a8a8a"/><circle cx="1276.4" cy="58.5" r="0.75" fill="#222"/><circle cx="1292.8" cy="57.8" r="3.4" fill="#161616"/><circle cx="1292.8" cy="58.0" r="1.2" fill="#888"/><circle cx="1169.8" cy="67.5" r="4.25" fill="#161616"/><circle cx="1169.8" cy="68.1" r="2.46" fill="#a0a0a0"/><circle cx="1169.8" cy="68.2" r="0.75" fill="#222"/><circle cx="1186.2" cy="67.5" r="4.25" fill="#161616"/><circle cx="1186.2" cy="68.1" r="2.46" fill="#fff"/><circle cx="1186.2" cy="68.2" r="0.75" fill="#222"/><circle cx="1202.6" cy="67.5" r="4.25" fill="#161616"/><circle cx="1202.6" cy="68.1" r="2.46" fill="#fff"/><circle cx="1202.6" cy="68.2" r="0.75" fill="#222"/><circle cx="1219.0" cy="67.5" r="4.25" fill="#161616"/><circle cx="1219.0" cy="68.1" r="2.46" fill="#fff"/><circle cx="1219.0" cy="68.2" r="0.75" fill="#222"/><circle cx="1235.4" cy="67.5" r="4.25" fill="#161616"/><circle cx="1235.4" cy="68.1" r="2.46" fill="#fff"/><circle cx="1235.4" cy="68.2" r="0.75" fill="#222"/><circle cx="1251.8" cy="67.5" r="4.25" fill="#161616"/><circle cx="1251.8" cy="68.1" r="2.46" fill="#fff"/><circle cx="1251.8" cy="68.2" r="0.75" fill="#222"/><circle cx="1268.2" cy="67.5" r="4.25" fill="#161616"/><circle cx="1268.2" cy="68.1" r="2.46" fill="#fff"/><circle cx="1268.2" cy="68.2" r="0.75" fill="#222"/><circle cx="1284.6" cy="67.5" r="4.25" fill="#161616"/><circle cx="1284.6" cy="68.1" r="2.46" fill="#a0a0a0"/><circle cx="1284.6" cy="68.2" r="0.75" fill="#222"/><circle cx="1161.6" cy="77.2" r="3.8" fill="#161616"/><circle cx="1161.6" cy="77.5" r="1.2" fill="#888"/><circle cx="1178.0" cy="77.2" r="4.25" fill="#161616"/><circle cx="1178.0" cy="77.8" r="2.46" fill="#fff"/><circle cx="1178.0" cy="78.0" r="0.75" fill="#222"/><circle cx="1194.4" cy="77.2" r="4.25" fill="#161616"/><circle cx="1194.4" cy="77.8" r="2.46" fill="#fff"/><circle cx="1194.4" cy="78.0" r="0.75" fill="#222"/><circle cx="1210.8" cy="77.2" r="4.25" fill="#161616"/><circle cx="1210.8" cy="77.8" r="2.46" fill="#fff"/><circle cx="1210.8" cy="78.0" r="0.75" fill="#222"/><circle cx="1227.2" cy="77.2" r="4.25" fill="#161616"/><circle cx="1227.2" cy="77.8" r="2.46" fill="#fff"/><circle cx="1227.2" cy="78.0" r="0.75" fill="#222"/><circle cx="1243.6" cy="77.2" r="4.25" fill="#161616"/><circle cx="1243.6" cy="77.8" r="2.46" fill="#fff"/><circle cx="1243.6" cy="78.0" r="0.75" fill="#222"/><circle cx="1260.0" cy="77.2" r="4.25" fill="#161616"/><circle cx="1260.0" cy="77.8" r="2.46" fill="#fff"/><circle cx="1260.0" cy="78.0" r="0.75" fill="#222"/><circle cx="1276.4" cy="77.2" r="4.25" fill="#161616"/><circle cx="1276.4" cy="77.8" r="2.46" fill="#fff"/><circle cx="1276.4" cy="78.0" r="0.75" fill="#222"/><circle cx="1292.8" cy="77.2" r="3.8" fill="#161616"/><circle cx="1292.8" cy="77.5" r="1.2" fill="#888"/><circle cx="1169.8" cy="87.0" r="4.25" fill="#161616"/><circle cx="1169.8" cy="87.6" r="2.46" fill="#a0a0a0"/><circle cx="1169.8" cy="87.7" r="0.75" fill="#222"/><circle cx="1186.2" cy="87.0" r="4.25" fill="#161616"/><circle cx="1186.2" cy="87.6" r="2.46" fill="#fff"/><circle cx="1186.2" cy="87.7" r="0.75" fill="#222"/><circle cx="1202.6" cy="87.0" r="4.25" fill="#161616"/><circle cx="1202.6" cy="87.6" r="2.46" fill="#fff"/><circle cx="1202.6" cy="87.7" r="0.75" fill="#222"/><circle cx="1219.0" cy="87.0" r="4.25" fill="#161616"/><circle cx="1219.0" cy="87.6" r="2.46" fill="#fff"/><circle cx="1219.0" cy="87.7" r="0.75" fill="#222"/><circle cx="1235.4" cy="87.0" r="4.25" fill="#161616"/><circle cx="1235.4" cy="87.6" r="2.46" fill="#fff"/><circle cx="1235.4" cy="87.7" r="0.75" fill="#222"/><circle cx="1251.8" cy="87.0" r="4.25" fill="#161616"/><circle cx="1251.8" cy="87.6" r="2.46" fill="#fff"/><circle cx="1251.8" cy="87.7" r="0.75" fill="#222"/><circle cx="1268.2" cy="87.0" r="4.25" fill="#161616"/><circle cx="1268.2" cy="87.6" r="2.46" fill="#fff"/><circle cx="1268.2" cy="87.7" r="0.75" fill="#222"/><circle cx="1284.6" cy="87.0" r="4.25" fill="#161616"/><circle cx="1284.6" cy="87.6" r="2.46" fill="#a0a0a0"/><circle cx="1284.6" cy="87.7" r="0.75" fill="#222"/><circle cx="1161.6" cy="96.8" r="3.8" fill="#161616"/><circle cx="1161.6" cy="97.0" r="1.2" fill="#888"/><circle cx="1178.0" cy="96.8" r="4.25" fill="#161616"/><circle cx="1178.0" cy="97.3" r="2.46" fill="#fff"/><circle cx="1178.0" cy="97.5" r="0.75" fill="#222"/><circle cx="1194.4" cy="96.8" r="4.25" fill="#161616"/><circle cx="1194.4" cy="97.3" r="2.46" fill="#fff"/><circle cx="1194.4" cy="97.5" r="0.75" fill="#222"/><circle cx="1210.8" cy="96.8" r="4.55" fill="#0e0e0e"/><circle cx="1210.8" cy="97.2" r="1.5" fill="#9a9a9a"/><circle cx="1210.8" cy="97.2" r="0.85" fill="#1a1a1a"/><circle cx="1227.2" cy="96.8" r="4.55" fill="#0e0e0e"/><circle cx="1227.2" cy="97.2" r="1.5" fill="#9a9a9a"/><circle cx="1227.2" cy="97.2" r="0.85" fill="#1a1a1a"/><circle cx="1243.6" cy="96.8" r="4.55" fill="#0e0e0e"/><circle cx="1243.6" cy="97.2" r="1.5" fill="#9a9a9a"/><circle cx="1243.6" cy="97.2" r="0.85" fill="#1a1a1a"/><circle cx="1260.0" cy="96.8" r="4.25" fill="#161616"/><circle cx="1260.0" cy="97.3" r="2.46" fill="#fff"/><circle cx="1260.0" cy="97.5" r="0.75" fill="#222"/><circle cx="1276.4" cy="96.8" r="4.25" fill="#161616"/><circle cx="1276.4" cy="97.3" r="2.46" fill="#fff"/><circle cx="1276.4" cy="97.5" r="0.75" fill="#222"/><circle cx="1292.8" cy="96.8" r="3.8" fill="#161616"/><circle cx="1292.8" cy="97.0" r="1.2" fill="#888"/><circle cx="1169.8" cy="106.5" r="4.25" fill="#161616"/><circle cx="1169.8" cy="107.1" r="2.46" fill="#a0a0a0"/><circle cx="1169.8" cy="107.2" r="0.75" fill="#222"/><circle cx="1186.2" cy="106.5" r="4.25" fill="#161616"/><circle cx="1186.2" cy="107.1" r="2.46" fill="#fff"/><circle cx="1186.2" cy="107.2" r="0.75" fill="#222"/><circle cx="1202.6" cy="106.5" r="4.55" fill="#0e0e0e"/><circle cx="1202.6" cy="107.0" r="1.5" fill="#9a9a9a"/><circle cx="1202.6" cy="107.0" r="0.85" fill="#1a1a1a"/><circle cx="1219.0" cy="106.5" r="4.55" fill="#0e0e0e"/><circle cx="1219.0" cy="107.0" r="1.5" fill="#9a9a9a"/><circle cx="1219.0" cy="107.0" r="0.85" fill="#1a1a1a"/><circle cx="1235.4" cy="106.5" r="4.55" fill="#0e0e0e"/><circle cx="1235.4" cy="107.0" r="1.5" fill="#9a9a9a"/><circle cx="1235.4" cy="107.0" r="0.85" fill="#1a1a1a"/><circle cx="1251.8" cy="106.5" r="4.55" fill="#0e0e0e"/><circle cx="1251.8" cy="107.0" r="1.5" fill="#9a9a9a"/><circle cx="1251.8" cy="107.0" r="0.85" fill="#1a1a1a"/><circle cx="1268.2" cy="106.5" r="4.25" fill="#161616"/><circle cx="1268.2" cy="107.1" r="2.46" fill="#fff"/><circle cx="1268.2" cy="107.2" r="0.75" fill="#222"/><circle cx="1284.6" cy="106.5" r="4.25" fill="#161616"/><circle cx="1284.6" cy="107.1" r="2.46" fill="#a0a0a0"/><circle cx="1284.6" cy="107.2" r="0.75" fill="#222"/><circle cx="1161.6" cy="116.2" r="3.8" fill="#161616"/><circle cx="1161.6" cy="116.5" r="1.2" fill="#888"/><circle cx="1178.0" cy="116.2" r="4.25" fill="#161616"/><circle cx="1178.0" cy="116.8" r="2.46" fill="#fff"/><circle cx="1178.0" cy="117.0" r="0.75" fill="#222"/><circle cx="1194.4" cy="116.2" r="4.25" fill="#161616"/><circle cx="1194.4" cy="116.8" r="2.46" fill="#fff"/><circle cx="1194.4" cy="117.0" r="0.75" fill="#222"/><circle cx="1210.8" cy="116.2" r="4.55" fill="#0e0e0e"/><circle cx="1210.8" cy="116.8" r="1.5" fill="#9a9a9a"/><circle cx="1210.8" cy="116.8" r="0.85" fill="#1a1a1a"/><circle cx="1227.2" cy="116.2" r="4.55" fill="#0e0e0e"/><circle cx="1227.2" cy="116.8" r="1.5" fill="#9a9a9a"/><circle cx="1227.2" cy="116.8" r="0.85" fill="#1a1a1a"/><circle cx="1243.6" cy="116.2" r="4.55" fill="#0e0e0e"/><circle cx="1243.6" cy="116.8" r="1.5" fill="#9a9a9a"/><circle cx="1243.6" cy="116.8" r="0.85" fill="#1a1a1a"/><circle cx="1260.0" cy="116.2" r="4.25" fill="#161616"/><circle cx="1260.0" cy="116.8" r="2.46" fill="#fff"/><circle cx="1260.0" cy="117.0" r="0.75" fill="#222"/><circle cx="1276.4" cy="116.2" r="4.25" fill="#161616"/><circle cx="1276.4" cy="116.8" r="2.46" fill="#fff"/><circle cx="1276.4" cy="117.0" r="0.75" fill="#222"/><circle cx="1292.8" cy="116.2" r="3.8" fill="#161616"/><circle cx="1292.8" cy="116.5" r="1.2" fill="#888"/><circle cx="1169.8" cy="126.0" r="4.25" fill="#161616"/><circle cx="1169.8" cy="126.6" r="2.46" fill="#a0a0a0"/><circle cx="1169.8" cy="126.7" r="0.75" fill="#222"/><circle cx="1186.2" cy="126.0" r="4.25" fill="#161616"/><circle cx="1186.2" cy="126.6" r="2.46" fill="#fff"/><circle cx="1186.2" cy="126.7" r="0.75" fill="#222"/><circle cx="1202.6" cy="126.0" r="4.55" fill="#0e0e0e"/><circle cx="1202.6" cy="126.5" r="1.5" fill="#9a9a9a"/><circle cx="1202.6" cy="126.5" r="0.85" fill="#1a1a1a"/><circle cx="1219.0" cy="126.0" r="4.55" fill="#0e0e0e"/><circle cx="1219.0" cy="126.5" r="1.5" fill="#9a9a9a"/><circle cx="1219.0" cy="126.5" r="0.85" fill="#1a1a1a"/><circle cx="1235.4" cy="126.0" r="4.55" fill="#0e0e0e"/><circle cx="1235.4" cy="126.5" r="1.5" fill="#9a9a9a"/><circle cx="1235.4" cy="126.5" r="0.85" fill="#1a1a1a"/><circle cx="1251.8" cy="126.0" r="4.55" fill="#0e0e0e"/><circle cx="1251.8" cy="126.5" r="1.5" fill="#9a9a9a"/><circle cx="1251.8" cy="126.5" r="0.85" fill="#1a1a1a"/><circle cx="1268.2" cy="126.0" r="4.25" fill="#161616"/><circle cx="1268.2" cy="126.6" r="2.46" fill="#fff"/><circle cx="1268.2" cy="126.7" r="0.75" fill="#222"/><circle cx="1284.6" cy="126.0" r="4.25" fill="#161616"/><circle cx="1284.6" cy="126.6" r="2.46" fill="#a0a0a0"/><circle cx="1284.6" cy="126.7" r="0.75" fill="#222"/><circle cx="1161.6" cy="135.8" r="3.8" fill="#161616"/><circle cx="1161.6" cy="136.1" r="1.2" fill="#888"/><circle cx="1178.0" cy="135.8" r="4.25" fill="#161616"/><circle cx="1178.0" cy="136.3" r="2.46" fill="#fff"/><circle cx="1178.0" cy="136.4" r="0.75" fill="#222"/><circle cx="1194.4" cy="135.8" r="4.25" fill="#161616"/><circle cx="1194.4" cy="136.3" r="2.46" fill="#fff"/><circle cx="1194.4" cy="136.4" r="0.75" fill="#222"/><circle cx="1210.8" cy="135.8" r="4.55" fill="#0e0e0e"/><circle cx="1210.8" cy="136.2" r="1.5" fill="#9a9a9a"/><circle cx="1210.8" cy="136.2" r="0.85" fill="#1a1a1a"/><circle cx="1227.2" cy="135.8" r="4.55" fill="#0e0e0e"/><circle cx="1227.2" cy="136.2" r="1.5" fill="#9a9a9a"/><circle cx="1227.2" cy="136.2" r="0.85" fill="#1a1a1a"/><circle cx="1243.6" cy="135.8" r="4.55" fill="#0e0e0e"/><circle cx="1243.6" cy="136.2" r="1.5" fill="#9a9a9a"/><circle cx="1243.6" cy="136.2" r="0.85" fill="#1a1a1a"/><circle cx="1260.0" cy="135.8" r="4.25" fill="#161616"/><circle cx="1260.0" cy="136.3" r="2.46" fill="#fff"/><circle cx="1260.0" cy="136.4" r="0.75" fill="#222"/><circle cx="1276.4" cy="135.8" r="4.25" fill="#161616"/><circle cx="1276.4" cy="136.3" r="2.46" fill="#fff"/><circle cx="1276.4" cy="136.4" r="0.75" fill="#222"/><circle cx="1292.8" cy="135.8" r="3.8" fill="#161616"/><circle cx="1292.8" cy="136.1" r="1.2" fill="#888"/><circle cx="1169.8" cy="145.5" r="4.25" fill="#161616"/><circle cx="1169.8" cy="146.1" r="2.46" fill="#a0a0a0"/><circle cx="1169.8" cy="146.2" r="0.75" fill="#222"/><circle cx="1186.2" cy="145.5" r="4.25" fill="#161616"/><circle cx="1186.2" cy="146.1" r="2.46" fill="#fff"/><circle cx="1186.2" cy="146.2" r="0.75" fill="#222"/><circle cx="1202.6" cy="145.5" r="4.55" fill="#0e0e0e"/><circle cx="1202.6" cy="146.0" r="1.5" fill="#9a9a9a"/><circle cx="1202.6" cy="146.0" r="0.85" fill="#1a1a1a"/><circle cx="1219.0" cy="145.5" r="4.55" fill="#0e0e0e"/><circle cx="1219.0" cy="146.0" r="1.5" fill="#9a9a9a"/><circle cx="1219.0" cy="146.0" r="0.85" fill="#1a1a1a"/><circle cx="1235.4" cy="145.5" r="4.55" fill="#0e0e0e"/><circle cx="1235.4" cy="146.0" r="1.5" fill="#9a9a9a"/><circle cx="1235.4" cy="146.0" r="0.85" fill="#1a1a1a"/><circle cx="1251.8" cy="145.5" r="4.55" fill="#0e0e0e"/><circle cx="1251.8" cy="146.0" r="1.5" fill="#9a9a9a"/><circle cx="1251.8" cy="146.0" r="0.85" fill="#1a1a1a"/><circle cx="1268.2" cy="145.5" r="4.25" fill="#161616"/><circle cx="1268.2" cy="146.1" r="2.46" fill="#fff"/><circle cx="1268.2" cy="146.2" r="0.75" fill="#222"/><circle cx="1284.6" cy="145.5" r="4.25" fill="#161616"/><circle cx="1284.6" cy="146.1" r="2.46" fill="#a0a0a0"/><circle cx="1284.6" cy="146.2" r="0.75" fill="#222"/><circle cx="1161.6" cy="155.2" r="3.8" fill="#161616"/><circle cx="1161.6" cy="155.6" r="1.2" fill="#888"/><circle cx="1178.0" cy="155.2" r="4.25" fill="#161616"/><circle cx="1178.0" cy="155.8" r="2.46" fill="#fff"/><circle cx="1178.0" cy="155.9" r="0.75" fill="#222"/><circle cx="1194.4" cy="155.2" r="4.25" fill="#161616"/><circle cx="1194.4" cy="155.8" r="2.46" fill="#fff"/><circle cx="1194.4" cy="155.9" r="0.75" fill="#222"/><circle cx="1210.8" cy="155.2" r="4.55" fill="#0e0e0e"/><circle cx="1210.8" cy="155.8" r="1.5" fill="#9a9a9a"/><circle cx="1210.8" cy="155.8" r="0.85" fill="#1a1a1a"/><circle cx="1227.2" cy="155.2" r="4.55" fill="#0e0e0e"/><circle cx="1227.2" cy="155.8" r="1.5" fill="#9a9a9a"/><circle cx="1227.2" cy="155.8" r="0.85" fill="#1a1a1a"/><circle cx="1243.6" cy="155.2" r="4.55" fill="#0e0e0e"/><circle cx="1243.6" cy="155.8" r="1.5" fill="#9a9a9a"/><circle cx="1243.6" cy="155.8" r="0.85" fill="#1a1a1a"/><circle cx="1260.0" cy="155.2" r="4.25" fill="#161616"/><circle cx="1260.0" cy="155.8" r="2.46" fill="#fff"/><circle cx="1260.0" cy="155.9" r="0.75" fill="#222"/><circle cx="1276.4" cy="155.2" r="4.25" fill="#161616"/><circle cx="1276.4" cy="155.8" r="2.46" fill="#fff"/><circle cx="1276.4" cy="155.9" r="0.75" fill="#222"/><circle cx="1292.8" cy="155.2" r="3.8" fill="#161616"/><circle cx="1292.8" cy="155.6" r="1.2" fill="#888"/><circle cx="1169.8" cy="165.0" r="4.25" fill="#161616"/><circle cx="1169.8" cy="165.6" r="2.46" fill="#a0a0a0"/><circle cx="1169.8" cy="165.7" r="0.75" fill="#222"/><circle cx="1186.2" cy="165.0" r="4.25" fill="#161616"/><circle cx="1186.2" cy="165.6" r="2.46" fill="#fff"/><circle cx="1186.2" cy="165.7" r="0.75" fill="#222"/><circle cx="1202.6" cy="165.0" r="4.55" fill="#0e0e0e"/><circle cx="1202.6" cy="165.5" r="1.5" fill="#9a9a9a"/><circle cx="1202.6" cy="165.5" r="0.85" fill="#1a1a1a"/><circle cx="1219.0" cy="165.0" r="4.55" fill="#0e0e0e"/><circle cx="1219.0" cy="165.5" r="1.5" fill="#9a9a9a"/><circle cx="1219.0" cy="165.5" r="0.85" fill="#1a1a1a"/><circle cx="1235.4" cy="165.0" r="4.55" fill="#0e0e0e"/><circle cx="1235.4" cy="165.5" r="1.5" fill="#9a9a9a"/><circle cx="1235.4" cy="165.5" r="0.85" fill="#1a1a1a"/><circle cx="1251.8" cy="165.0" r="4.55" fill="#0e0e0e"/><circle cx="1251.8" cy="165.5" r="1.5" fill="#9a9a9a"/><circle cx="1251.8" cy="165.5" r="0.85" fill="#1a1a1a"/><circle cx="1268.2" cy="165.0" r="4.25" fill="#161616"/><circle cx="1268.2" cy="165.6" r="2.46" fill="#fff"/><circle cx="1268.2" cy="165.7" r="0.75" fill="#222"/><circle cx="1284.6" cy="165.0" r="4.25" fill="#161616"/><circle cx="1284.6" cy="165.6" r="2.46" fill="#a0a0a0"/><circle cx="1284.6" cy="165.7" r="0.75" fill="#222"/><circle cx="1161.6" cy="174.8" r="3.8" fill="#161616"/><circle cx="1161.6" cy="175.1" r="1.2" fill="#888"/><circle cx="1178.0" cy="174.8" r="4.25" fill="#161616"/><circle cx="1178.0" cy="175.3" r="2.46" fill="#fff"/><circle cx="1178.0" cy="175.4" r="0.75" fill="#222"/><circle cx="1194.4" cy="174.8" r="4.25" fill="#161616"/><circle cx="1194.4" cy="175.3" r="2.46" fill="#fff"/><circle cx="1194.4" cy="175.4" r="0.75" fill="#222"/><circle cx="1210.8" cy="174.8" r="4.55" fill="#0e0e0e"/><circle cx="1210.8" cy="175.2" r="1.5" fill="#9a9a9a"/><circle cx="1210.8" cy="175.2" r="0.85" fill="#1a1a1a"/><circle cx="1227.2" cy="174.8" r="4.55" fill="#0e0e0e"/><circle cx="1227.2" cy="175.2" r="1.5" fill="#9a9a9a"/><circle cx="1227.2" cy="175.2" r="0.85" fill="#1a1a1a"/><circle cx="1243.6" cy="174.8" r="4.55" fill="#0e0e0e"/><circle cx="1243.6" cy="175.2" r="1.5" fill="#9a9a9a"/><circle cx="1243.6" cy="175.2" r="0.85" fill="#1a1a1a"/><circle cx="1260.0" cy="174.8" r="4.25" fill="#161616"/><circle cx="1260.0" cy="175.3" r="2.46" fill="#fff"/><circle cx="1260.0" cy="175.4" r="0.75" fill="#222"/><circle cx="1276.4" cy="174.8" r="4.25" fill="#161616"/><circle cx="1276.4" cy="175.3" r="2.46" fill="#fff"/><circle cx="1276.4" cy="175.4" r="0.75" fill="#222"/><circle cx="1292.8" cy="174.8" r="3.8" fill="#161616"/><circle cx="1292.8" cy="175.1" r="1.2" fill="#888"/><circle cx="1169.8" cy="184.5" r="4.25" fill="#161616"/><circle cx="1169.8" cy="185.1" r="2.46" fill="#a0a0a0"/><circle cx="1169.8" cy="185.2" r="0.75" fill="#222"/><circle cx="1186.2" cy="184.5" r="4.25" fill="#161616"/><circle cx="1186.2" cy="185.1" r="2.46" fill="#fff"/><circle cx="1186.2" cy="185.2" r="0.75" fill="#222"/><circle cx="1202.6" cy="184.5" r="4.25" fill="#161616"/><circle cx="1202.6" cy="185.1" r="2.46" fill="#fff"/><circle cx="1202.6" cy="185.2" r="0.75" fill="#222"/><circle cx="1219.0" cy="184.5" r="4.25" fill="#161616"/><circle cx="1219.0" cy="185.1" r="2.46" fill="#fff"/><circle cx="1219.0" cy="185.2" r="0.75" fill="#222"/><circle cx="1235.4" cy="184.5" r="4.25" fill="#161616"/><circle cx="1235.4" cy="185.1" r="2.46" fill="#fff"/><circle cx="1235.4" cy="185.2" r="0.75" fill="#222"/><circle cx="1251.8" cy="184.5" r="4.25" fill="#161616"/><circle cx="1251.8" cy="185.1" r="2.46" fill="#fff"/><circle cx="1251.8" cy="185.2" r="0.75" fill="#222"/><circle cx="1268.2" cy="184.5" r="4.25" fill="#161616"/><circle cx="1268.2" cy="185.1" r="2.46" fill="#fff"/><circle cx="1268.2" cy="185.2" r="0.75" fill="#222"/><circle cx="1284.6" cy="184.5" r="4.25" fill="#161616"/><circle cx="1284.6" cy="185.1" r="2.46" fill="#a0a0a0"/><circle cx="1284.6" cy="185.2" r="0.75" fill="#222"/><circle cx="1161.6" cy="194.2" r="3.8" fill="#161616"/><circle cx="1161.6" cy="194.6" r="1.2" fill="#888"/><circle cx="1178.0" cy="194.2" r="4.25" fill="#161616"/><circle cx="1178.0" cy="194.8" r="2.46" fill="#fff"/><circle cx="1178.0" cy="194.9" r="0.75" fill="#222"/><circle cx="1194.4" cy="194.2" r="4.25" fill="#161616"/><circle cx="1194.4" cy="194.8" r="2.46" fill="#fff"/><circle cx="1194.4" cy="194.9" r="0.75" fill="#222"/><circle cx="1210.8" cy="194.2" r="4.25" fill="#161616"/><circle cx="1210.8" cy="194.8" r="2.46" fill="#fff"/><circle cx="1210.8" cy="194.9" r="0.75" fill="#222"/><circle cx="1227.2" cy="194.2" r="4.25" fill="#161616"/><circle cx="1227.2" cy="194.8" r="2.46" fill="#fff"/><circle cx="1227.2" cy="194.9" r="0.75" fill="#222"/><circle cx="1243.6" cy="194.2" r="4.25" fill="#161616"/><circle cx="1243.6" cy="194.8" r="2.46" fill="#fff"/><circle cx="1243.6" cy="194.9" r="0.75" fill="#222"/><circle cx="1260.0" cy="194.2" r="4.25" fill="#161616"/><circle cx="1260.0" cy="194.8" r="2.46" fill="#fff"/><circle cx="1260.0" cy="194.9" r="0.75" fill="#222"/><circle cx="1276.4" cy="194.2" r="4.25" fill="#161616"/><circle cx="1276.4" cy="194.8" r="2.46" fill="#fff"/><circle cx="1276.4" cy="194.9" r="0.75" fill="#222"/><circle cx="1292.8" cy="194.2" r="3.8" fill="#161616"/><circle cx="1292.8" cy="194.6" r="1.2" fill="#888"/><circle cx="1169.8" cy="204.0" r="4.25" fill="#161616"/><circle cx="1169.8" cy="204.6" r="2.46" fill="#a0a0a0"/><circle cx="1169.8" cy="204.7" r="0.75" fill="#222"/><circle cx="1186.2" cy="204.0" r="4.25" fill="#161616"/><circle cx="1186.2" cy="204.6" r="2.46" fill="#fff"/><circle cx="1186.2" cy="204.7" r="0.75" fill="#222"/><circle cx="1202.6" cy="204.0" r="4.25" fill="#161616"/><circle cx="1202.6" cy="204.6" r="2.46" fill="#fff"/><circle cx="1202.6" cy="204.7" r="0.75" fill="#222"/><circle cx="1219.0" cy="204.0" r="4.25" fill="#161616"/><circle cx="1219.0" cy="204.6" r="2.46" fill="#fff"/><circle cx="1219.0" cy="204.7" r="0.75" fill="#222"/><circle cx="1235.4" cy="204.0" r="4.25" fill="#161616"/><circle cx="1235.4" cy="204.6" r="2.46" fill="#fff"/><circle cx="1235.4" cy="204.7" r="0.75" fill="#222"/><circle cx="1251.8" cy="204.0" r="4.25" fill="#161616"/><circle cx="1251.8" cy="204.6" r="2.46" fill="#fff"/><circle cx="1251.8" cy="204.7" r="0.75" fill="#222"/><circle cx="1268.2" cy="204.0" r="4.25" fill="#161616"/><circle cx="1268.2" cy="204.6" r="2.46" fill="#fff"/><circle cx="1268.2" cy="204.7" r="0.75" fill="#222"/><circle cx="1284.6" cy="204.0" r="4.25" fill="#161616"/><circle cx="1284.6" cy="204.6" r="2.46" fill="#a0a0a0"/><circle cx="1284.6" cy="204.7" r="0.75" fill="#222"/><circle cx="1161.6" cy="213.8" r="3.4" fill="#161616"/><circle cx="1161.6" cy="214.1" r="1.2" fill="#888"/><circle cx="1178.0" cy="213.8" r="3.6" fill="#161616"/><circle cx="1178.0" cy="214.3" r="2.09" fill="#8a8a8a"/><circle cx="1178.0" cy="214.4" r="0.75" fill="#222"/><circle cx="1194.4" cy="213.8" r="3.6" fill="#161616"/><circle cx="1194.4" cy="214.3" r="2.09" fill="#8a8a8a"/><circle cx="1194.4" cy="214.4" r="0.75" fill="#222"/><circle cx="1210.8" cy="213.8" r="3.6" fill="#161616"/><circle cx="1210.8" cy="214.3" r="2.09" fill="#8a8a8a"/><circle cx="1210.8" cy="214.4" r="0.75" fill="#222"/><circle cx="1227.2" cy="213.8" r="3.6" fill="#161616"/><circle cx="1227.2" cy="214.3" r="2.09" fill="#8a8a8a"/><circle cx="1227.2" cy="214.4" r="0.75" fill="#222"/><circle cx="1243.6" cy="213.8" r="3.6" fill="#161616"/><circle cx="1243.6" cy="214.3" r="2.09" fill="#8a8a8a"/><circle cx="1243.6" cy="214.4" r="0.75" fill="#222"/><circle cx="1260.0" cy="213.8" r="3.6" fill="#161616"/><circle cx="1260.0" cy="214.3" r="2.09" fill="#8a8a8a"/><circle cx="1260.0" cy="214.4" r="0.75" fill="#222"/><circle cx="1276.4" cy="213.8" r="3.6" fill="#161616"/><circle cx="1276.4" cy="214.3" r="2.09" fill="#8a8a8a"/><circle cx="1276.4" cy="214.4" r="0.75" fill="#222"/><circle cx="1292.8" cy="213.8" r="3.4" fill="#161616"/><circle cx="1292.8" cy="214.1" r="1.2" fill="#888"/><circle cx="1169.8" cy="223.5" r="2.9" fill="#1e1e1e"/><circle cx="1169.8" cy="223.8" r="0.9" fill="#777"/><circle cx="1186.2" cy="223.5" r="2.9" fill="#1e1e1e"/><circle cx="1186.2" cy="223.8" r="0.9" fill="#777"/><circle cx="1202.6" cy="223.5" r="2.9" fill="#1e1e1e"/><circle cx="1202.6" cy="223.8" r="0.9" fill="#777"/><circle cx="1219.0" cy="223.5" r="2.9" fill="#1e1e1e"/><circle cx="1219.0" cy="223.8" r="0.9" fill="#777"/><circle cx="1235.4" cy="223.5" r="2.9" fill="#1e1e1e"/><circle cx="1235.4" cy="223.8" r="0.9" fill="#777"/><circle cx="1251.8" cy="223.5" r="2.9" fill="#1e1e1e"/><circle cx="1251.8" cy="223.8" r="0.9" fill="#777"/><circle cx="1268.2" cy="223.5" r="2.9" fill="#1e1e1e"/><circle cx="1268.2" cy="223.8" r="0.9" fill="#777"/><circle cx="1284.6" cy="223.5" r="2.9" fill="#1e1e1e"/><circle cx="1284.6" cy="223.8" r="0.9" fill="#777"/></g>
</svg></body></html>
